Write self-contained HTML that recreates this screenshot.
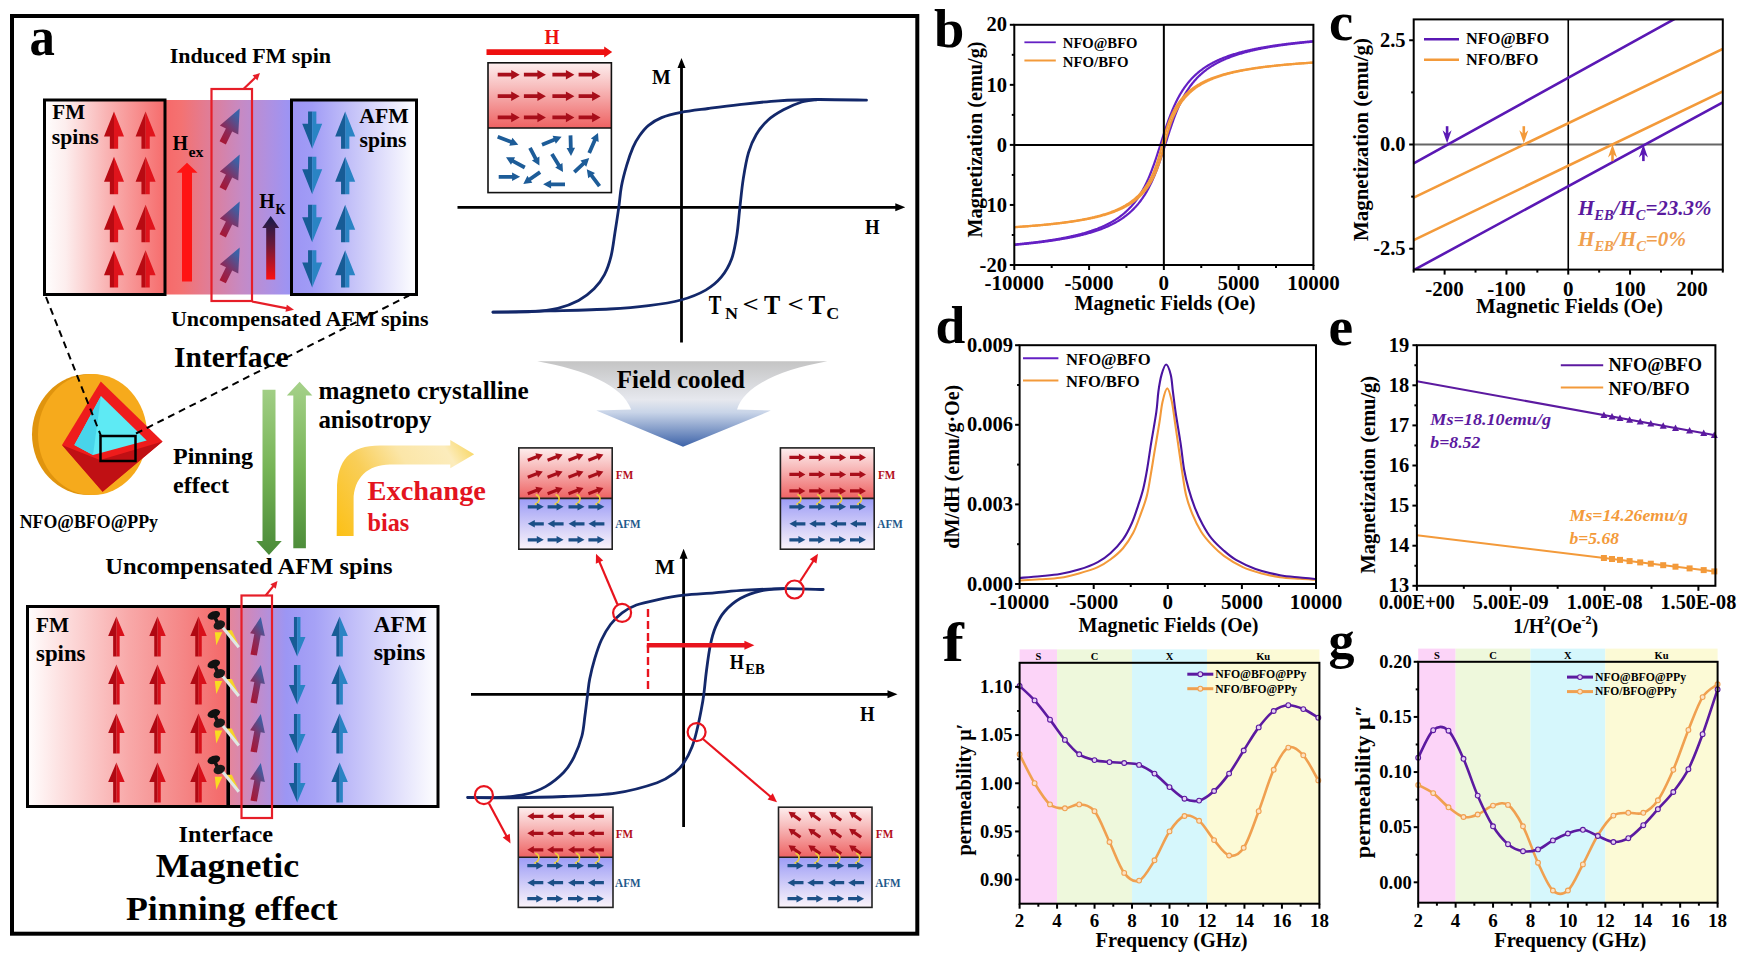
<!DOCTYPE html>
<html><head><meta charset="utf-8"><title>Exchange bias figure</title>
<style>html,body{margin:0;padding:0;background:#fff;overflow:hidden;} svg{display:block;font-family:"Liberation Serif",serif;}</style>
</head><body>
<svg width="1745" height="964" viewBox="0 0 1745 964" font-family="'Liberation Serif', serif">
<defs>
<linearGradient id="gTop" x1="43" y1="0" x2="417" y2="0" gradientUnits="userSpaceOnUse">
<stop offset="0" stop-color="#ffffff"/>
<stop offset="0.06" stop-color="#fdeeee"/>
<stop offset="0.17" stop-color="#f9b4b4"/>
<stop offset="0.33" stop-color="#f66a6a"/>
<stop offset="0.37" stop-color="#f47272"/>
<stop offset="0.45" stop-color="#de7e9a"/>
<stop offset="0.53" stop-color="#c68ac4"/>
<stop offset="0.60" stop-color="#b090e0"/>
<stop offset="0.66" stop-color="#9c94f4"/>
<stop offset="0.72" stop-color="#a19cf6"/>
<stop offset="0.85" stop-color="#cccaf9"/>
<stop offset="1" stop-color="#ffffff"/>
</linearGradient>
<linearGradient id="gTilt" x1="0" y1="1" x2="0.6" y2="0">
<stop offset="0" stop-color="#b01028"/><stop offset="0.45" stop-color="#8a2a5a"/><stop offset="1" stop-color="#3a62a8"/>
</linearGradient>
<linearGradient id="gHK" x1="0" y1="216" x2="0" y2="280" gradientUnits="userSpaceOnUse">
<stop offset="0" stop-color="#151a4a"/><stop offset="0.45" stop-color="#6a1a3a"/><stop offset="1" stop-color="#ff1010"/>
</linearGradient>
<linearGradient id="gGreen" x1="0" y1="385" x2="0" y2="555" gradientUnits="userSpaceOnUse">
<stop offset="0" stop-color="#a4d088"/><stop offset="0.5" stop-color="#76b456"/><stop offset="1" stop-color="#4a8a38"/>
</linearGradient>
<linearGradient id="gYel" x1="336" y1="536" x2="475" y2="450" gradientUnits="userSpaceOnUse">
<stop offset="0" stop-color="#fcc014"/><stop offset="0.35" stop-color="#f9ce58"/><stop offset="0.6" stop-color="#fbe6a8"/><stop offset="0.85" stop-color="#fcecbc"/><stop offset="1" stop-color="#f8d660"/>
</linearGradient>
<linearGradient id="gBot" x1="26" y1="0" x2="439" y2="0" gradientUnits="userSpaceOnUse">
<stop offset="0" stop-color="#ffffff"/>
<stop offset="0.08" stop-color="#fde2e2"/>
<stop offset="0.25" stop-color="#f8a8a8"/>
<stop offset="0.38" stop-color="#f58686"/>
<stop offset="0.48" stop-color="#f46a6a"/>
<stop offset="0.49" stop-color="#e6869a"/>
<stop offset="0.55" stop-color="#c88ac4"/>
<stop offset="0.63" stop-color="#9c96f4"/>
<stop offset="0.70" stop-color="#a6a2f6"/>
<stop offset="0.85" stop-color="#d2d0fa"/>
<stop offset="1" stop-color="#ffffff"/>
</linearGradient>
<linearGradient id="gFMv" x1="0" y1="0" x2="0" y2="1">
<stop offset="0" stop-color="#fdeeee"/><stop offset="0.35" stop-color="#f8c0c0"/><stop offset="1" stop-color="#ee6262"/>
</linearGradient>
<linearGradient id="gAFMv" x1="0" y1="0" x2="0" y2="1">
<stop offset="0" stop-color="#9c9cf6"/><stop offset="0.6" stop-color="#d6d2f8"/><stop offset="1" stop-color="#fbf4fa"/>
</linearGradient>
<linearGradient id="gFunnel" x1="0" y1="361" x2="0" y2="447" gradientUnits="userSpaceOnUse">
<stop offset="0" stop-color="#c4c4c4"/><stop offset="0.45" stop-color="#e6e8ee"/><stop offset="0.6" stop-color="#c8d4e8"/><stop offset="1" stop-color="#3c62a8"/>
</linearGradient>
</defs>
<rect width="1745" height="964" fill="#fff"/>
<rect x="12" y="16" width="905.3" height="917.7" fill="none" stroke="#000" stroke-width="4"/>
<text x="29.5" y="54.8" font-size="54.5" fill="#000" font-weight="bold" font-style="normal" text-anchor="start" textLength="25.4" lengthAdjust="spacingAndGlyphs" >a</text>
<rect x="43" y="100" width="374" height="194.5" fill="url(#gTop)"/>
<rect x="44.5" y="100" width="120.5" height="194.5" fill="none" stroke="#000" stroke-width="3"/>
<rect x="291.5" y="100" width="125" height="194.5" fill="none" stroke="#000" stroke-width="3"/>
<polygon points="114.00,148.80 118.15,148.80 118.15,136.40 124.00,136.40 114.00,111.40" fill="#e0141c"/>
<polygon points="114.00,111.40 104.00,136.40 109.85,136.40 109.85,148.80 114.00,148.80" fill="#b80a12"/>
<polygon points="114.00,194.20 118.15,194.20 118.15,181.80 124.00,181.80 114.00,156.80" fill="#e0141c"/>
<polygon points="114.00,156.80 104.00,181.80 109.85,181.80 109.85,194.20 114.00,194.20" fill="#b80a12"/>
<polygon points="114.00,242.20 118.15,242.20 118.15,229.80 124.00,229.80 114.00,204.80" fill="#e0141c"/>
<polygon points="114.00,204.80 104.00,229.80 109.85,229.80 109.85,242.20 114.00,242.20" fill="#b80a12"/>
<polygon points="114.00,287.60 118.15,287.60 118.15,275.20 124.00,275.20 114.00,250.20" fill="#e0141c"/>
<polygon points="114.00,250.20 104.00,275.20 109.85,275.20 109.85,287.60 114.00,287.60" fill="#b80a12"/>
<polygon points="145.60,148.80 149.75,148.80 149.75,136.40 155.60,136.40 145.60,111.40" fill="#e0141c"/>
<polygon points="145.60,111.40 135.60,136.40 141.45,136.40 141.45,148.80 145.60,148.80" fill="#b80a12"/>
<polygon points="145.60,194.20 149.75,194.20 149.75,181.80 155.60,181.80 145.60,156.80" fill="#e0141c"/>
<polygon points="145.60,156.80 135.60,181.80 141.45,181.80 141.45,194.20 145.60,194.20" fill="#b80a12"/>
<polygon points="145.60,242.20 149.75,242.20 149.75,229.80 155.60,229.80 145.60,204.80" fill="#e0141c"/>
<polygon points="145.60,204.80 135.60,229.80 141.45,229.80 141.45,242.20 145.60,242.20" fill="#b80a12"/>
<polygon points="145.60,287.60 149.75,287.60 149.75,275.20 155.60,275.20 145.60,250.20" fill="#e0141c"/>
<polygon points="145.60,250.20 135.60,275.20 141.45,275.20 141.45,287.60 145.60,287.60" fill="#b80a12"/>
<polygon points="312.20,111.40 308.05,111.40 308.05,123.80 302.20,123.80 312.20,148.80" fill="#175c96"/>
<polygon points="312.20,148.80 322.20,123.80 316.35,123.80 316.35,111.40 312.20,111.40" fill="#2a84c4"/>
<polygon points="345.20,148.80 349.35,148.80 349.35,136.40 355.20,136.40 345.20,111.40" fill="#2a84c4"/>
<polygon points="345.20,111.40 335.20,136.40 341.05,136.40 341.05,148.80 345.20,148.80" fill="#175c96"/>
<polygon points="312.20,156.80 308.05,156.80 308.05,169.20 302.20,169.20 312.20,194.20" fill="#175c96"/>
<polygon points="312.20,194.20 322.20,169.20 316.35,169.20 316.35,156.80 312.20,156.80" fill="#2a84c4"/>
<polygon points="345.20,194.20 349.35,194.20 349.35,181.80 355.20,181.80 345.20,156.80" fill="#2a84c4"/>
<polygon points="345.20,156.80 335.20,181.80 341.05,181.80 341.05,194.20 345.20,194.20" fill="#175c96"/>
<polygon points="312.20,204.80 308.05,204.80 308.05,217.20 302.20,217.20 312.20,242.20" fill="#175c96"/>
<polygon points="312.20,242.20 322.20,217.20 316.35,217.20 316.35,204.80 312.20,204.80" fill="#2a84c4"/>
<polygon points="345.20,242.20 349.35,242.20 349.35,229.80 355.20,229.80 345.20,204.80" fill="#2a84c4"/>
<polygon points="345.20,204.80 335.20,229.80 341.05,229.80 341.05,242.20 345.20,242.20" fill="#175c96"/>
<polygon points="312.20,250.20 308.05,250.20 308.05,262.60 302.20,262.60 312.20,287.60" fill="#175c96"/>
<polygon points="312.20,287.60 322.20,262.60 316.35,262.60 316.35,250.20 312.20,250.20" fill="#2a84c4"/>
<polygon points="345.20,287.60 349.35,287.60 349.35,275.20 355.20,275.20 345.20,250.20" fill="#2a84c4"/>
<polygon points="345.20,250.20 335.20,275.20 341.05,275.20 341.05,287.60 345.20,287.60" fill="#175c96"/>
<polygon points="225.84,144.45 232.20,131.57 238.26,134.56 239.70,108.50 219.88,125.47 225.93,128.47 219.56,141.35" fill="url(#gTilt)"/>
<polygon points="225.84,190.45 232.20,177.57 238.26,180.56 239.70,154.50 219.88,171.47 225.93,174.47 219.56,187.35" fill="url(#gTilt)"/>
<polygon points="225.84,237.45 232.20,224.57 238.26,227.56 239.70,201.50 219.88,218.47 225.93,221.47 219.56,234.35" fill="url(#gTilt)"/>
<polygon points="225.84,283.35 232.20,270.47 238.26,273.46 239.70,247.40 219.88,264.37 225.93,267.37 219.56,280.25" fill="url(#gTilt)"/>
<rect x="211.5" y="89" width="40.5" height="212" fill="none" stroke="#e61e28" stroke-width="2.2"/>
<line x1="243.50" y1="89.00" x2="255.69" y2="77.18" stroke="#e61e28" stroke-width="2.2"/>
<polygon points="260.00,73.00 257.41,80.39 252.54,75.36" fill="#e61e28"/>
<line x1="252.00" y1="301.50" x2="287.13" y2="308.44" stroke="#e61e28" stroke-width="2.2"/>
<polygon points="294.00,309.80 285.47,311.68 286.83,304.82" fill="#e61e28"/>
<polygon points="192.00,281.40 192.00,172.80 197.50,172.80 187.00,162.80 176.50,172.80 182.00,172.80 182.00,281.40" fill="#ff1414" />
<text x="172.6" y="150.3" font-size="20.5" fill="#000" font-weight="bold" font-style="normal" text-anchor="start" textLength="15.5" lengthAdjust="spacingAndGlyphs" >H</text>
<text x="188.5" y="156.5" font-size="14" fill="#000" font-weight="bold" font-style="normal" text-anchor="start" textLength="15.0" lengthAdjust="spacingAndGlyphs" >ex</text>
<polygon points="275.20,279.60 275.20,228.00 279.20,228.00 270.70,216.00 262.20,228.00 266.20,228.00 266.20,279.60" fill="url(#gHK)" />
<text x="259.3" y="208.2" font-size="20.5" fill="#000" font-weight="bold" font-style="normal" text-anchor="start" textLength="15.5" lengthAdjust="spacingAndGlyphs" >H</text>
<text x="275.5" y="214.4" font-size="14" fill="#000" font-weight="bold" font-style="normal" text-anchor="start" textLength="10.0" lengthAdjust="spacingAndGlyphs" >K</text>
<text x="169.7" y="62.6" font-size="22" fill="#000" font-weight="bold" font-style="normal" text-anchor="start" textLength="161.3" lengthAdjust="spacingAndGlyphs" >Induced FM spin</text>
<text x="52.3" y="118.7" font-size="21" fill="#000" font-weight="bold" font-style="normal" text-anchor="start" textLength="32.7" lengthAdjust="spacingAndGlyphs" >FM</text>
<text x="51.8" y="144.4" font-size="21.5" fill="#000" font-weight="bold" font-style="normal" text-anchor="start" textLength="47.0" lengthAdjust="spacingAndGlyphs" >spins</text>
<text x="359.3" y="122.6" font-size="21.5" fill="#000" font-weight="bold" font-style="normal" text-anchor="start" textLength="49.4" lengthAdjust="spacingAndGlyphs" >AFM</text>
<text x="359.5" y="147.3" font-size="21.5" fill="#000" font-weight="bold" font-style="normal" text-anchor="start" textLength="47.0" lengthAdjust="spacingAndGlyphs" >spins</text>
<text x="171.0" y="326.4" font-size="22" fill="#000" font-weight="bold" font-style="normal" text-anchor="start" textLength="257.6" lengthAdjust="spacingAndGlyphs" >Uncompensated AFM spins</text>
<text x="174.0" y="366.7" font-size="28.5" fill="#000" font-weight="bold" font-style="normal" text-anchor="start" textLength="114.7" lengthAdjust="spacingAndGlyphs" >Interface</text>
<ellipse cx="89" cy="434.5" rx="57" ry="60.5" fill="#e0940e"/>
<ellipse cx="92.5" cy="434.5" rx="54.5" ry="60.5" fill="#f6aa1c"/>
<polygon points="100.80,381.50 62.00,445.00 102.60,491.70 162.60,441.40" fill="#ee1c1c"/>
<polygon points="62.00,445.00 102.60,491.70 162.60,441.40 100.00,460.00" fill="#c01014"/>
<polygon points="101.00,396.00 74.40,445.00 93.00,455.00 146.70,440.50" fill="#5eeaf4"/>
<polygon points="101.00,396.00 74.40,445.00 93.00,455.00" fill="#48d4ea"/>
<rect x="100.5" y="436" width="35" height="25" fill="none" stroke="#000" stroke-width="2.5"/>
<line x1="46" y1="297" x2="101" y2="436" stroke="#000" stroke-width="2" stroke-dasharray="7 5"/>
<line x1="136" y1="433.5" x2="409" y2="295.5" stroke="#000" stroke-width="2" stroke-dasharray="7 5"/>
<text x="173.0" y="463.5" font-size="24" fill="#000" font-weight="bold" font-style="normal" text-anchor="start" >Pinning</text>
<text x="173.0" y="492.6" font-size="24" fill="#000" font-weight="bold" font-style="normal" text-anchor="start" >effect</text>
<text x="19.7" y="527.8" font-size="18" fill="#000" font-weight="bold" font-style="normal" text-anchor="start" textLength="138.3" lengthAdjust="spacingAndGlyphs" >NFO@BFO@PPy</text>
<polygon points="262.50,389.70 262.50,541.00 256.25,541.00 269.00,555.00 281.75,541.00 275.50,541.00 275.50,389.70" fill="url(#gGreen)" />
<polygon points="305.90,548.20 305.90,395.40 312.35,395.40 299.60,381.70 286.85,395.40 293.30,395.40 293.30,548.20" fill="url(#gGreen)" />
<text x="318.4" y="398.8" font-size="25" fill="#000" font-weight="bold" font-style="normal" text-anchor="start" textLength="210.4" lengthAdjust="spacingAndGlyphs" >magneto crystalline</text>
<text x="318.4" y="428.4" font-size="25" fill="#000" font-weight="bold" font-style="normal" text-anchor="start" textLength="113.0" lengthAdjust="spacingAndGlyphs" >anisotropy</text>
<path d="M336.7,536 L337,490 C337,460 350,445.5 380,445.5 L450.3,445.5 L450.3,440 L474.2,454.3 L450.3,468.2 L450.3,464.4 L390,464.4 C368,464.4 353.6,478 353.6,500 L353.6,536 Z" fill="url(#gYel)"/>
<text x="367.5" y="500.3" font-size="27" fill="#e3141e" font-weight="bold" font-style="normal" text-anchor="start" textLength="118.5" lengthAdjust="spacingAndGlyphs" >Exchange</text>
<text x="367.5" y="531.0" font-size="25" fill="#e3141e" font-weight="bold" font-style="normal" text-anchor="start" textLength="41.7" lengthAdjust="spacingAndGlyphs" >bias</text>
<text x="105.2" y="573.8" font-size="23.6" fill="#000" font-weight="bold" font-style="normal" text-anchor="start" textLength="287.4" lengthAdjust="spacingAndGlyphs" >Uncompensated AFM spins</text>
<rect x="26" y="605" width="413" height="203" fill="url(#gBot)"/>
<rect x="27.5" y="606.5" width="410.5" height="200" fill="none" stroke="#000" stroke-width="3"/>
<line x1="228.2" y1="606" x2="228.2" y2="807" stroke="#000" stroke-width="3.6"/>
<polygon points="116.40,656.50 119.65,656.50 119.65,636.10 124.65,636.10 116.40,616.50" fill="#d8101a"/>
<polygon points="116.40,616.50 108.15,636.10 113.15,636.10 113.15,656.50 116.40,656.50" fill="#b00812"/>
<polygon points="116.40,704.50 119.65,704.50 119.65,684.10 124.65,684.10 116.40,664.50" fill="#d8101a"/>
<polygon points="116.40,664.50 108.15,684.10 113.15,684.10 113.15,704.50 116.40,704.50" fill="#b00812"/>
<polygon points="116.40,753.50 119.65,753.50 119.65,733.10 124.65,733.10 116.40,713.50" fill="#d8101a"/>
<polygon points="116.40,713.50 108.15,733.10 113.15,733.10 113.15,753.50 116.40,753.50" fill="#b00812"/>
<polygon points="116.40,802.50 119.65,802.50 119.65,782.10 124.65,782.10 116.40,762.50" fill="#d8101a"/>
<polygon points="116.40,762.50 108.15,782.10 113.15,782.10 113.15,802.50 116.40,802.50" fill="#b00812"/>
<polygon points="157.50,656.50 160.75,656.50 160.75,636.10 165.75,636.10 157.50,616.50" fill="#d8101a"/>
<polygon points="157.50,616.50 149.25,636.10 154.25,636.10 154.25,656.50 157.50,656.50" fill="#b00812"/>
<polygon points="157.50,704.50 160.75,704.50 160.75,684.10 165.75,684.10 157.50,664.50" fill="#d8101a"/>
<polygon points="157.50,664.50 149.25,684.10 154.25,684.10 154.25,704.50 157.50,704.50" fill="#b00812"/>
<polygon points="157.50,753.50 160.75,753.50 160.75,733.10 165.75,733.10 157.50,713.50" fill="#d8101a"/>
<polygon points="157.50,713.50 149.25,733.10 154.25,733.10 154.25,753.50 157.50,753.50" fill="#b00812"/>
<polygon points="157.50,802.50 160.75,802.50 160.75,782.10 165.75,782.10 157.50,762.50" fill="#d8101a"/>
<polygon points="157.50,762.50 149.25,782.10 154.25,782.10 154.25,802.50 157.50,802.50" fill="#b00812"/>
<polygon points="198.50,656.50 201.75,656.50 201.75,636.10 206.75,636.10 198.50,616.50" fill="#d8101a"/>
<polygon points="198.50,616.50 190.25,636.10 195.25,636.10 195.25,656.50 198.50,656.50" fill="#b00812"/>
<polygon points="198.50,704.50 201.75,704.50 201.75,684.10 206.75,684.10 198.50,664.50" fill="#d8101a"/>
<polygon points="198.50,664.50 190.25,684.10 195.25,684.10 195.25,704.50 198.50,704.50" fill="#b00812"/>
<polygon points="198.50,753.50 201.75,753.50 201.75,733.10 206.75,733.10 198.50,713.50" fill="#d8101a"/>
<polygon points="198.50,713.50 190.25,733.10 195.25,733.10 195.25,753.50 198.50,753.50" fill="#b00812"/>
<polygon points="198.50,802.50 201.75,802.50 201.75,782.10 206.75,782.10 198.50,762.50" fill="#d8101a"/>
<polygon points="198.50,762.50 190.25,782.10 195.25,782.10 195.25,802.50 198.50,802.50" fill="#b00812"/>
<polygon points="297.20,617.00 293.95,617.00 293.95,636.90 288.95,636.90 297.20,656.50" fill="#175c96"/>
<polygon points="297.20,656.50 305.45,636.90 300.45,636.90 300.45,617.00 297.20,617.00" fill="#2a84c4"/>
<polygon points="339.60,656.50 342.85,656.50 342.85,636.10 347.85,636.10 339.60,616.50" fill="#2a84c4"/>
<polygon points="339.60,616.50 331.35,636.10 336.35,636.10 336.35,656.50 339.60,656.50" fill="#175c96"/>
<polygon points="297.20,665.00 293.95,665.00 293.95,684.90 288.95,684.90 297.20,704.50" fill="#175c96"/>
<polygon points="297.20,704.50 305.45,684.90 300.45,684.90 300.45,665.00 297.20,665.00" fill="#2a84c4"/>
<polygon points="339.60,704.50 342.85,704.50 342.85,684.10 347.85,684.10 339.60,664.50" fill="#2a84c4"/>
<polygon points="339.60,664.50 331.35,684.10 336.35,684.10 336.35,704.50 339.60,704.50" fill="#175c96"/>
<polygon points="297.20,714.00 293.95,714.00 293.95,733.90 288.95,733.90 297.20,753.50" fill="#175c96"/>
<polygon points="297.20,753.50 305.45,733.90 300.45,733.90 300.45,714.00 297.20,714.00" fill="#2a84c4"/>
<polygon points="339.60,753.50 342.85,753.50 342.85,733.10 347.85,733.10 339.60,713.50" fill="#2a84c4"/>
<polygon points="339.60,713.50 331.35,733.10 336.35,733.10 336.35,753.50 339.60,753.50" fill="#175c96"/>
<polygon points="297.20,763.00 293.95,763.00 293.95,782.90 288.95,782.90 297.20,802.50" fill="#175c96"/>
<polygon points="297.20,802.50 305.45,782.90 300.45,782.90 300.45,763.00 297.20,763.00" fill="#2a84c4"/>
<polygon points="339.60,802.50 342.85,802.50 342.85,782.10 347.85,782.10 339.60,762.50" fill="#2a84c4"/>
<polygon points="339.60,762.50 331.35,782.10 336.35,782.10 336.35,802.50 339.60,802.50" fill="#175c96"/>
<polygon points="256.89,655.60 260.69,635.29 264.87,636.07 260.80,617.00 250.12,633.32 254.30,634.10 250.51,654.40" fill="url(#gTilt)"/>
<polygon points="256.89,703.60 260.69,683.29 264.87,684.07 260.80,665.00 250.12,681.32 254.30,682.10 250.51,702.40" fill="url(#gTilt)"/>
<polygon points="256.89,752.60 260.69,732.29 264.87,733.07 260.80,714.00 250.12,730.32 254.30,731.10 250.51,751.40" fill="url(#gTilt)"/>
<polygon points="256.89,801.60 260.69,781.29 264.87,782.07 260.80,763.00 250.12,779.32 254.30,780.10 250.51,800.40" fill="url(#gTilt)"/>
<g transform="translate(213.8,615.3)"><polygon points="1,17 2.5,30 8.5,17" fill="#f8dc20"/><polygon points="11,15 25,30 18,15" fill="#f6d428"/><line x1="8" y1="11" x2="25" y2="32" stroke="#dfe8e4" stroke-width="3"/><ellipse cx="0" cy="0" rx="6.5" ry="4" transform="rotate(-20)" fill="#111"/><polygon points="-1,2 3,2 6,8 2,8" fill="#111"/><ellipse cx="5.5" cy="9.7" rx="6" ry="4.3" transform="rotate(-25 5.5 9.7)" fill="#1a1a1a"/></g>
<g transform="translate(213.8,664)"><polygon points="1,17 2.5,30 8.5,17" fill="#f8dc20"/><polygon points="11,15 25,30 18,15" fill="#f6d428"/><line x1="8" y1="11" x2="25" y2="32" stroke="#dfe8e4" stroke-width="3"/><ellipse cx="0" cy="0" rx="6.5" ry="4" transform="rotate(-20)" fill="#111"/><polygon points="-1,2 3,2 6,8 2,8" fill="#111"/><ellipse cx="5.5" cy="9.7" rx="6" ry="4.3" transform="rotate(-25 5.5 9.7)" fill="#1a1a1a"/></g>
<g transform="translate(213.8,713.5)"><polygon points="1,17 2.5,30 8.5,17" fill="#f8dc20"/><polygon points="11,15 25,30 18,15" fill="#f6d428"/><line x1="8" y1="11" x2="25" y2="32" stroke="#dfe8e4" stroke-width="3"/><ellipse cx="0" cy="0" rx="6.5" ry="4" transform="rotate(-20)" fill="#111"/><polygon points="-1,2 3,2 6,8 2,8" fill="#111"/><ellipse cx="5.5" cy="9.7" rx="6" ry="4.3" transform="rotate(-25 5.5 9.7)" fill="#1a1a1a"/></g>
<g transform="translate(213.8,759.8)"><polygon points="1,17 2.5,30 8.5,17" fill="#f8dc20"/><polygon points="11,15 25,30 18,15" fill="#f6d428"/><line x1="8" y1="11" x2="25" y2="32" stroke="#dfe8e4" stroke-width="3"/><ellipse cx="0" cy="0" rx="6.5" ry="4" transform="rotate(-20)" fill="#111"/><polygon points="-1,2 3,2 6,8 2,8" fill="#111"/><ellipse cx="5.5" cy="9.7" rx="6" ry="4.3" transform="rotate(-25 5.5 9.7)" fill="#1a1a1a"/></g>
<rect x="241.5" y="595.5" width="30.5" height="222.5" fill="none" stroke="#e61e28" stroke-width="2.2"/>
<line x1="265.70" y1="595.50" x2="273.71" y2="585.65" stroke="#e61e28" stroke-width="2.2"/>
<polygon points="277.50,581.00 275.80,588.64 270.37,584.22" fill="#e61e28"/>
<text x="36.0" y="632.4" font-size="22" fill="#000" font-weight="bold" font-style="normal" text-anchor="start" textLength="33.0" lengthAdjust="spacingAndGlyphs" >FM</text>
<text x="36.0" y="661.3" font-size="22.5" fill="#000" font-weight="bold" font-style="normal" text-anchor="start" textLength="49.5" lengthAdjust="spacingAndGlyphs" >spins</text>
<text x="373.7" y="631.7" font-size="23" fill="#000" font-weight="bold" font-style="normal" text-anchor="start" textLength="52.9" lengthAdjust="spacingAndGlyphs" >AFM</text>
<text x="373.7" y="659.7" font-size="23.5" fill="#000" font-weight="bold" font-style="normal" text-anchor="start" textLength="51.7" lengthAdjust="spacingAndGlyphs" >spins</text>
<text x="178.6" y="841.9" font-size="24" fill="#000" font-weight="bold" font-style="normal" text-anchor="start" textLength="94.4" lengthAdjust="spacingAndGlyphs" >Interface</text>
<text x="155.7" y="877.0" font-size="34" fill="#000" font-weight="bold" font-style="normal" text-anchor="start" textLength="143.5" lengthAdjust="spacingAndGlyphs" >Magnetic</text>
<text x="126.0" y="920.0" font-size="34" fill="#000" font-weight="bold" font-style="normal" text-anchor="start" textLength="211.8" lengthAdjust="spacingAndGlyphs" >Pinning effect</text>
<rect x="488" y="62.8" width="123.4" height="65.2" fill="url(#gFMv)"/>
<rect x="488" y="62.8" width="123.4" height="129.8" fill="none" stroke="#111" stroke-width="1.6"/>
<line x1="488" y1="128" x2="611.4" y2="128" stroke="#111" stroke-width="1.6"/>
<polygon points="497.70,76.60 511.20,76.60 511.20,79.45 519.70,74.70 511.20,69.95 511.20,72.80 497.70,72.80" fill="#a80e1a" />
<polygon points="523.90,76.60 537.40,76.60 537.40,79.45 545.90,74.70 537.40,69.95 537.40,72.80 523.90,72.80" fill="#a80e1a" />
<polygon points="552.40,76.60 565.90,76.60 565.90,79.45 574.40,74.70 565.90,69.95 565.90,72.80 552.40,72.80" fill="#a80e1a" />
<polygon points="578.60,76.60 592.10,76.60 592.10,79.45 600.60,74.70 592.10,69.95 592.10,72.80 578.60,72.80" fill="#a80e1a" />
<polygon points="497.70,98.10 511.20,98.10 511.20,100.95 519.70,96.20 511.20,91.45 511.20,94.30 497.70,94.30" fill="#a80e1a" />
<polygon points="523.90,98.10 537.40,98.10 537.40,100.95 545.90,96.20 537.40,91.45 537.40,94.30 523.90,94.30" fill="#a80e1a" />
<polygon points="552.40,98.10 565.90,98.10 565.90,100.95 574.40,96.20 565.90,91.45 565.90,94.30 552.40,94.30" fill="#a80e1a" />
<polygon points="578.60,98.10 592.10,98.10 592.10,100.95 600.60,96.20 592.10,91.45 592.10,94.30 578.60,94.30" fill="#a80e1a" />
<polygon points="497.70,119.30 511.20,119.30 511.20,122.15 519.70,117.40 511.20,112.65 511.20,115.50 497.70,115.50" fill="#a80e1a" />
<polygon points="523.90,119.30 537.40,119.30 537.40,122.15 545.90,117.40 537.40,112.65 537.40,115.50 523.90,115.50" fill="#a80e1a" />
<polygon points="552.40,119.30 565.90,119.30 565.90,122.15 574.40,117.40 565.90,112.65 565.90,115.50 552.40,115.50" fill="#a80e1a" />
<polygon points="578.60,119.30 592.10,119.30 592.10,122.15 600.60,117.40 592.10,112.65 592.10,115.50 578.60,115.50" fill="#a80e1a" />
<polygon points="497.01,138.47 510.15,143.58 509.30,145.77 518.30,144.70 512.38,137.84 511.53,140.03 498.39,134.93" fill="#1d5c98" />
<polygon points="525.71,165.83 513.93,159.38 515.06,157.32 506.00,157.20 510.97,164.77 512.10,162.71 523.89,169.17" fill="#1d5c98" />
<polygon points="498.70,178.70 512.10,178.70 512.10,181.05 520.10,176.80 512.10,172.55 512.10,174.90 498.70,174.90" fill="#1d5c98" />
<polygon points="528.32,148.79 533.97,159.43 531.89,160.53 539.40,165.60 539.40,156.54 537.33,157.64 531.68,147.01" fill="#1d5c98" />
<polygon points="539.01,170.55 528.75,177.75 527.40,175.82 523.30,183.90 532.29,182.78 530.94,180.86 541.19,173.65" fill="#1d5c98" />
<polygon points="542.72,146.46 554.91,141.48 555.80,143.66 561.60,136.70 552.59,135.79 553.48,137.96 541.28,142.94" fill="#1d5c98" />
<polygon points="550.28,154.99 557.20,166.27 555.19,167.50 563.00,172.10 562.44,163.06 560.44,164.29 553.52,153.01" fill="#1d5c98" />
<polygon points="565.00,182.40 551.10,182.40 551.10,180.05 543.10,184.30 551.10,188.55 551.10,186.20 565.00,186.20" fill="#1d5c98" />
<polygon points="568.60,135.45 568.91,147.95 566.56,148.01 571.00,155.90 575.05,147.80 572.70,147.86 572.40,135.35" fill="#1d5c98" />
<polygon points="575.60,173.48 584.67,164.96 586.28,166.68 589.20,158.10 580.46,160.48 582.07,162.19 573.00,170.72" fill="#1d5c98" />
<polygon points="590.94,153.67 596.52,140.99 598.67,141.93 598.00,132.90 590.89,138.51 593.04,139.46 587.46,152.13" fill="#1d5c98" />
<polygon points="601.02,184.95 593.14,174.54 595.01,173.12 586.80,169.30 588.23,178.24 590.11,176.83 597.98,187.25" fill="#1d5c98" />
<polygon points="486.50,54.90 604.20,54.90 604.20,57.60 612.20,52.10 604.20,46.60 604.20,49.30 486.50,49.30" fill="#ee1010" />
<text x="544.4" y="43.9" font-size="20" fill="#ee1010" font-weight="bold" font-style="normal" text-anchor="start" textLength="15.0" lengthAdjust="spacingAndGlyphs" >H</text>
<polygon points="682.90,342.50 682.90,68.00 685.50,68.00 681.50,58.00 677.50,68.00 680.10,68.00 680.10,342.50" fill="#000" />
<polygon points="457.50,208.70 895.30,208.70 895.30,211.30 905.30,207.30 895.30,203.30 895.30,205.90 457.50,205.90" fill="#000" />
<text x="652.0" y="83.6" font-size="21" fill="#000" font-weight="bold" font-style="normal" text-anchor="start" textLength="18.8" lengthAdjust="spacingAndGlyphs" >M</text>
<text x="865.0" y="234.2" font-size="21" fill="#000" font-weight="bold" font-style="normal" text-anchor="start" textLength="14.6" lengthAdjust="spacingAndGlyphs" >H</text>
<path d="M866.50,100.20 C858.28,100.08 831.90,99.40 817.20,99.50 C802.50,99.60 791.27,99.95 778.30,100.80 C765.33,101.65 751.07,103.32 739.40,104.60 C727.73,105.88 718.03,107.20 708.30,108.50 C698.57,109.80 688.78,110.88 681.00,112.40 C673.22,113.92 667.00,115.43 661.60,117.60 C656.20,119.77 652.28,122.37 648.60,125.40 C644.92,128.43 642.10,132.13 639.50,135.80 C636.90,139.47 635.15,142.43 633.00,147.40 C630.85,152.37 628.53,159.10 626.60,165.60 C624.67,172.10 622.70,179.48 621.40,186.40 C620.10,193.32 619.88,199.33 618.80,207.10 C617.72,214.87 616.20,224.78 614.90,233.00 C613.60,241.22 612.73,249.47 611.00,256.40 C609.27,263.33 607.32,269.20 604.50,274.60 C601.68,280.00 598.42,284.48 594.10,288.80 C589.78,293.12 584.65,297.25 578.60,300.50 C572.55,303.75 565.58,306.45 557.80,308.30 C550.02,310.15 542.70,310.95 531.90,311.60 C521.10,312.25 499.48,312.10 493.00,312.20" fill="none" stroke="#13286a" stroke-width="2.8" stroke-linecap="round"/>
<path d="M493.00,312.20 C502.50,311.98 530.55,311.43 550.00,310.90 C569.45,310.37 593.27,309.87 609.70,309.00 C626.13,308.13 636.72,307.20 648.60,305.70 C660.48,304.20 671.48,302.60 681.00,300.00 C690.52,297.40 699.00,293.90 705.70,290.10 C712.40,286.30 716.88,282.38 721.20,277.20 C725.52,272.02 729.00,265.93 731.60,259.00 C734.20,252.07 735.42,244.25 736.80,235.60 C738.18,226.95 738.82,216.60 739.90,207.10 C740.98,197.60 741.87,187.68 743.30,178.60 C744.73,169.52 746.33,159.95 748.50,152.60 C750.67,145.25 753.07,139.90 756.30,134.50 C759.53,129.10 763.37,124.32 767.90,120.20 C772.43,116.08 777.87,112.83 783.50,109.80 C789.13,106.77 796.08,103.72 801.70,102.00 C807.32,100.28 814.62,99.92 817.20,99.50" fill="none" stroke="#13286a" stroke-width="2.8" stroke-linecap="round"/>
<text x="708.7" y="313.8" font-size="27.5" fill="#000" font-weight="bold" font-style="normal" text-anchor="start" textLength="12.6" lengthAdjust="spacingAndGlyphs" >T</text>
<text x="725.0" y="318.8" font-size="17" fill="#000" font-weight="bold" font-style="normal" text-anchor="start" textLength="13.0" lengthAdjust="spacingAndGlyphs" >N</text>
<text x="742.5" y="311.8" font-size="23" fill="#000" font-weight="bold" font-style="normal" text-anchor="start" textLength="16.3" lengthAdjust="spacingAndGlyphs" >&lt;</text>
<text x="764.1" y="313.8" font-size="27.5" fill="#000" font-weight="bold" font-style="normal" text-anchor="start" textLength="16.2" lengthAdjust="spacingAndGlyphs" >T</text>
<text x="787.6" y="311.8" font-size="23" fill="#000" font-weight="bold" font-style="normal" text-anchor="start" textLength="16.3" lengthAdjust="spacingAndGlyphs" >&lt;</text>
<text x="808.4" y="313.8" font-size="27.5" fill="#000" font-weight="bold" font-style="normal" text-anchor="start" textLength="16.7" lengthAdjust="spacingAndGlyphs" >T</text>
<text x="826.3" y="318.8" font-size="17" fill="#000" font-weight="bold" font-style="normal" text-anchor="start" textLength="13.0" lengthAdjust="spacingAndGlyphs" >C</text>
<path d="M537.3,361.3 L827.3,361.3 C780,370 745,385 737,409.4 L770.8,410.6 L683,446.7 L596.3,410.6 L631.2,409.4 C622,385 585,370 537.3,361.3 Z" fill="url(#gFunnel)"/>
<text x="616.7" y="388.2" font-size="25" fill="#000" font-weight="bold" font-style="normal" text-anchor="start" textLength="128.3" lengthAdjust="spacingAndGlyphs" >Field cooled</text>
<rect x="518.8" y="447.9" width="93.4" height="50.5" fill="url(#gFMv)"/>
<rect x="518.8" y="498.4" width="93.4" height="50.8" fill="url(#gAFMv)"/>
<rect x="518.8" y="447.9" width="93.4" height="101.3" fill="none" stroke="#222" stroke-width="1.6"/>
<line x1="518.8" y1="498.4" x2="612.2" y2="498.4" stroke="#222" stroke-width="1.6"/>
<polygon points="528.36,461.70 537.27,458.37 538.02,460.39 542.80,454.60 535.40,453.36 536.15,455.37 527.24,458.70" fill="#a80e1a" />
<polygon points="548.16,461.70 557.07,458.37 557.82,460.39 562.60,454.60 555.20,453.36 555.95,455.37 547.04,458.70" fill="#a80e1a" />
<polygon points="569.06,461.70 577.97,458.37 578.72,460.39 583.50,454.60 576.10,453.36 576.85,455.37 567.94,458.70" fill="#a80e1a" />
<polygon points="588.96,461.70 597.87,458.37 598.62,460.39 603.40,454.60 596.00,453.36 596.75,455.37 587.84,458.70" fill="#a80e1a" />
<polygon points="528.36,478.70 537.27,475.37 538.02,477.39 542.80,471.60 535.40,470.36 536.15,472.37 527.24,475.70" fill="#a80e1a" />
<polygon points="548.16,478.70 557.07,475.37 557.82,477.39 562.60,471.60 555.20,470.36 555.95,472.37 547.04,475.70" fill="#a80e1a" />
<polygon points="569.06,478.70 577.97,475.37 578.72,477.39 583.50,471.60 576.10,470.36 576.85,472.37 567.94,475.70" fill="#a80e1a" />
<polygon points="588.96,478.70 597.87,475.37 598.62,477.39 603.40,471.60 596.00,470.36 596.75,472.37 587.84,475.70" fill="#a80e1a" />
<polygon points="528.36,495.20 537.27,491.87 538.02,493.89 542.80,488.10 535.40,486.86 536.15,488.87 527.24,492.20" fill="#a80e1a" />
<polygon points="548.16,495.20 557.07,491.87 557.82,493.89 562.60,488.10 555.20,486.86 555.95,488.87 547.04,492.20" fill="#a80e1a" />
<polygon points="569.06,495.20 577.97,491.87 578.72,493.89 583.50,488.10 576.10,486.86 576.85,488.87 567.94,492.20" fill="#a80e1a" />
<polygon points="588.96,495.20 597.87,491.87 598.62,493.89 603.40,488.10 596.00,486.86 596.75,488.87 587.84,492.20" fill="#a80e1a" />
<path d="M535.8,494.4 q4,1.5 3.5,5 q-0.5,3.5 -4.5,5" fill="none" stroke="#ecd23a" stroke-width="1.6"/>
<path d="M555.6,494.4 q4,1.5 3.5,5 q-0.5,3.5 -4.5,5" fill="none" stroke="#ecd23a" stroke-width="1.6"/>
<path d="M576.5,494.4 q4,1.5 3.5,5 q-0.5,3.5 -4.5,5" fill="none" stroke="#ecd23a" stroke-width="1.6"/>
<path d="M596.4,494.4 q4,1.5 3.5,5 q-0.5,3.5 -4.5,5" fill="none" stroke="#ecd23a" stroke-width="1.6"/>
<polygon points="527.80,508.40 536.80,508.40 536.80,510.55 543.80,506.80 536.80,503.05 536.80,505.20 527.80,505.20" fill="#1b4f86" />
<polygon points="547.60,508.40 556.60,508.40 556.60,510.55 563.60,506.80 556.60,503.05 556.60,505.20 547.60,505.20" fill="#1b4f86" />
<polygon points="568.50,508.40 577.50,508.40 577.50,510.55 584.50,506.80 577.50,503.05 577.50,505.20 568.50,505.20" fill="#1b4f86" />
<polygon points="588.40,508.40 597.40,508.40 597.40,510.55 604.40,506.80 597.40,503.05 597.40,505.20 588.40,505.20" fill="#1b4f86" />
<polygon points="543.80,522.20 534.80,522.20 534.80,520.05 527.80,523.80 534.80,527.55 534.80,525.40 543.80,525.40" fill="#1b4f86" />
<polygon points="563.60,522.20 554.60,522.20 554.60,520.05 547.60,523.80 554.60,527.55 554.60,525.40 563.60,525.40" fill="#1b4f86" />
<polygon points="584.50,522.20 575.50,522.20 575.50,520.05 568.50,523.80 575.50,527.55 575.50,525.40 584.50,525.40" fill="#1b4f86" />
<polygon points="604.40,522.20 595.40,522.20 595.40,520.05 588.40,523.80 595.40,527.55 595.40,525.40 604.40,525.40" fill="#1b4f86" />
<polygon points="527.80,541.40 536.80,541.40 536.80,543.55 543.80,539.80 536.80,536.05 536.80,538.20 527.80,538.20" fill="#1b4f86" />
<polygon points="547.60,541.40 556.60,541.40 556.60,543.55 563.60,539.80 556.60,536.05 556.60,538.20 547.60,538.20" fill="#1b4f86" />
<polygon points="568.50,541.40 577.50,541.40 577.50,543.55 584.50,539.80 577.50,536.05 577.50,538.20 568.50,538.20" fill="#1b4f86" />
<polygon points="588.40,541.40 597.40,541.40 597.40,543.55 604.40,539.80 597.40,536.05 597.40,538.20 588.40,538.20" fill="#1b4f86" />
<text x="615.8" y="478.8" font-size="11.5" fill="#b3101c" font-weight="bold" font-style="normal" text-anchor="start" textLength="17.4" lengthAdjust="spacingAndGlyphs" >FM</text>
<text x="615.2" y="527.9" font-size="11.5" fill="#1f5a8c" font-weight="bold" font-style="normal" text-anchor="start" textLength="25.5" lengthAdjust="spacingAndGlyphs" >AFM</text>
<rect x="780.4" y="447.9" width="93.8" height="50.5" fill="url(#gFMv)"/>
<rect x="780.4" y="498.4" width="93.8" height="50.8" fill="url(#gAFMv)"/>
<rect x="780.4" y="447.9" width="93.8" height="101.3" fill="none" stroke="#222" stroke-width="1.6"/>
<line x1="780.4" y1="498.4" x2="874.2" y2="498.4" stroke="#222" stroke-width="1.6"/>
<polygon points="789.40,459.00 798.90,459.00 798.90,461.15 805.40,457.40 798.90,453.65 798.90,455.80 789.40,455.80" fill="#a80e1a" />
<polygon points="809.20,459.00 818.70,459.00 818.70,461.15 825.20,457.40 818.70,453.65 818.70,455.80 809.20,455.80" fill="#a80e1a" />
<polygon points="830.10,459.00 839.60,459.00 839.60,461.15 846.10,457.40 839.60,453.65 839.60,455.80 830.10,455.80" fill="#a80e1a" />
<polygon points="850.00,459.00 859.50,459.00 859.50,461.15 866.00,457.40 859.50,453.65 859.50,455.80 850.00,455.80" fill="#a80e1a" />
<polygon points="789.40,476.00 798.90,476.00 798.90,478.15 805.40,474.40 798.90,470.65 798.90,472.80 789.40,472.80" fill="#a80e1a" />
<polygon points="809.20,476.00 818.70,476.00 818.70,478.15 825.20,474.40 818.70,470.65 818.70,472.80 809.20,472.80" fill="#a80e1a" />
<polygon points="830.10,476.00 839.60,476.00 839.60,478.15 846.10,474.40 839.60,470.65 839.60,472.80 830.10,472.80" fill="#a80e1a" />
<polygon points="850.00,476.00 859.50,476.00 859.50,478.15 866.00,474.40 859.50,470.65 859.50,472.80 850.00,472.80" fill="#a80e1a" />
<polygon points="789.40,492.50 798.90,492.50 798.90,494.65 805.40,490.90 798.90,487.15 798.90,489.30 789.40,489.30" fill="#a80e1a" />
<polygon points="809.20,492.50 818.70,492.50 818.70,494.65 825.20,490.90 818.70,487.15 818.70,489.30 809.20,489.30" fill="#a80e1a" />
<polygon points="830.10,492.50 839.60,492.50 839.60,494.65 846.10,490.90 839.60,487.15 839.60,489.30 830.10,489.30" fill="#a80e1a" />
<polygon points="850.00,492.50 859.50,492.50 859.50,494.65 866.00,490.90 859.50,487.15 859.50,489.30 850.00,489.30" fill="#a80e1a" />
<path d="M797.4,494.4 q4,1.5 3.5,5 q-0.5,3.5 -4.5,5" fill="none" stroke="#ecd23a" stroke-width="1.6"/>
<path d="M817.2,494.4 q4,1.5 3.5,5 q-0.5,3.5 -4.5,5" fill="none" stroke="#ecd23a" stroke-width="1.6"/>
<path d="M838.1,494.4 q4,1.5 3.5,5 q-0.5,3.5 -4.5,5" fill="none" stroke="#ecd23a" stroke-width="1.6"/>
<path d="M858.0,494.4 q4,1.5 3.5,5 q-0.5,3.5 -4.5,5" fill="none" stroke="#ecd23a" stroke-width="1.6"/>
<polygon points="789.40,508.40 798.40,508.40 798.40,510.55 805.40,506.80 798.40,503.05 798.40,505.20 789.40,505.20" fill="#1b4f86" />
<polygon points="809.20,508.40 818.20,508.40 818.20,510.55 825.20,506.80 818.20,503.05 818.20,505.20 809.20,505.20" fill="#1b4f86" />
<polygon points="830.10,508.40 839.10,508.40 839.10,510.55 846.10,506.80 839.10,503.05 839.10,505.20 830.10,505.20" fill="#1b4f86" />
<polygon points="850.00,508.40 859.00,508.40 859.00,510.55 866.00,506.80 859.00,503.05 859.00,505.20 850.00,505.20" fill="#1b4f86" />
<polygon points="805.40,522.20 796.40,522.20 796.40,520.05 789.40,523.80 796.40,527.55 796.40,525.40 805.40,525.40" fill="#1b4f86" />
<polygon points="825.20,522.20 816.20,522.20 816.20,520.05 809.20,523.80 816.20,527.55 816.20,525.40 825.20,525.40" fill="#1b4f86" />
<polygon points="846.10,522.20 837.10,522.20 837.10,520.05 830.10,523.80 837.10,527.55 837.10,525.40 846.10,525.40" fill="#1b4f86" />
<polygon points="866.00,522.20 857.00,522.20 857.00,520.05 850.00,523.80 857.00,527.55 857.00,525.40 866.00,525.40" fill="#1b4f86" />
<polygon points="789.40,541.40 798.40,541.40 798.40,543.55 805.40,539.80 798.40,536.05 798.40,538.20 789.40,538.20" fill="#1b4f86" />
<polygon points="809.20,541.40 818.20,541.40 818.20,543.55 825.20,539.80 818.20,536.05 818.20,538.20 809.20,538.20" fill="#1b4f86" />
<polygon points="830.10,541.40 839.10,541.40 839.10,543.55 846.10,539.80 839.10,536.05 839.10,538.20 830.10,538.20" fill="#1b4f86" />
<polygon points="850.00,541.40 859.00,541.40 859.00,543.55 866.00,539.80 859.00,536.05 859.00,538.20 850.00,538.20" fill="#1b4f86" />
<text x="877.9" y="478.8" font-size="11.5" fill="#b3101c" font-weight="bold" font-style="normal" text-anchor="start" textLength="17.4" lengthAdjust="spacingAndGlyphs" >FM</text>
<text x="877.3" y="527.9" font-size="11.5" fill="#1f5a8c" font-weight="bold" font-style="normal" text-anchor="start" textLength="25.5" lengthAdjust="spacingAndGlyphs" >AFM</text>
<rect x="518.3" y="807.2" width="94.7" height="50.1" fill="url(#gFMv)"/>
<rect x="518.3" y="857.3" width="94.7" height="50.1" fill="url(#gAFMv)"/>
<rect x="518.3" y="807.2" width="94.7" height="100.2" fill="none" stroke="#222" stroke-width="1.6"/>
<line x1="518.3" y1="857.3" x2="613" y2="857.3" stroke="#222" stroke-width="1.6"/>
<polygon points="543.30,814.70 533.80,814.70 533.80,812.55 527.30,816.30 533.80,820.05 533.80,817.90 543.30,817.90" fill="#a80e1a" />
<polygon points="563.10,814.70 553.60,814.70 553.60,812.55 547.10,816.30 553.60,820.05 553.60,817.90 563.10,817.90" fill="#a80e1a" />
<polygon points="584.00,814.70 574.50,814.70 574.50,812.55 568.00,816.30 574.50,820.05 574.50,817.90 584.00,817.90" fill="#a80e1a" />
<polygon points="603.90,814.70 594.40,814.70 594.40,812.55 587.90,816.30 594.40,820.05 594.40,817.90 603.90,817.90" fill="#a80e1a" />
<polygon points="543.30,831.70 533.80,831.70 533.80,829.55 527.30,833.30 533.80,837.05 533.80,834.90 543.30,834.90" fill="#a80e1a" />
<polygon points="563.10,831.70 553.60,831.70 553.60,829.55 547.10,833.30 553.60,837.05 553.60,834.90 563.10,834.90" fill="#a80e1a" />
<polygon points="584.00,831.70 574.50,831.70 574.50,829.55 568.00,833.30 574.50,837.05 574.50,834.90 584.00,834.90" fill="#a80e1a" />
<polygon points="603.90,831.70 594.40,831.70 594.40,829.55 587.90,833.30 594.40,837.05 594.40,834.90 603.90,834.90" fill="#a80e1a" />
<polygon points="543.30,848.20 533.80,848.20 533.80,846.05 527.30,849.80 533.80,853.55 533.80,851.40 543.30,851.40" fill="#a80e1a" />
<polygon points="563.10,848.20 553.60,848.20 553.60,846.05 547.10,849.80 553.60,853.55 553.60,851.40 563.10,851.40" fill="#a80e1a" />
<polygon points="584.00,848.20 574.50,848.20 574.50,846.05 568.00,849.80 574.50,853.55 574.50,851.40 584.00,851.40" fill="#a80e1a" />
<polygon points="603.90,848.20 594.40,848.20 594.40,846.05 587.90,849.80 594.40,853.55 594.40,851.40 603.90,851.40" fill="#a80e1a" />
<path d="M535.3,853.3 q4,1.5 3.5,5 q-0.5,3.5 -4.5,5" fill="none" stroke="#ecd23a" stroke-width="1.6"/>
<path d="M555.1,853.3 q4,1.5 3.5,5 q-0.5,3.5 -4.5,5" fill="none" stroke="#ecd23a" stroke-width="1.6"/>
<path d="M576.0,853.3 q4,1.5 3.5,5 q-0.5,3.5 -4.5,5" fill="none" stroke="#ecd23a" stroke-width="1.6"/>
<path d="M595.9,853.3 q4,1.5 3.5,5 q-0.5,3.5 -4.5,5" fill="none" stroke="#ecd23a" stroke-width="1.6"/>
<polygon points="527.30,867.30 536.30,867.30 536.30,869.45 543.30,865.70 536.30,861.95 536.30,864.10 527.30,864.10" fill="#1b4f86" />
<polygon points="547.10,867.30 556.10,867.30 556.10,869.45 563.10,865.70 556.10,861.95 556.10,864.10 547.10,864.10" fill="#1b4f86" />
<polygon points="568.00,867.30 577.00,867.30 577.00,869.45 584.00,865.70 577.00,861.95 577.00,864.10 568.00,864.10" fill="#1b4f86" />
<polygon points="587.90,867.30 596.90,867.30 596.90,869.45 603.90,865.70 596.90,861.95 596.90,864.10 587.90,864.10" fill="#1b4f86" />
<polygon points="543.30,881.10 534.30,881.10 534.30,878.95 527.30,882.70 534.30,886.45 534.30,884.30 543.30,884.30" fill="#1b4f86" />
<polygon points="563.10,881.10 554.10,881.10 554.10,878.95 547.10,882.70 554.10,886.45 554.10,884.30 563.10,884.30" fill="#1b4f86" />
<polygon points="584.00,881.10 575.00,881.10 575.00,878.95 568.00,882.70 575.00,886.45 575.00,884.30 584.00,884.30" fill="#1b4f86" />
<polygon points="603.90,881.10 594.90,881.10 594.90,878.95 587.90,882.70 594.90,886.45 594.90,884.30 603.90,884.30" fill="#1b4f86" />
<polygon points="527.30,900.30 536.30,900.30 536.30,902.45 543.30,898.70 536.30,894.95 536.30,897.10 527.30,897.10" fill="#1b4f86" />
<polygon points="547.10,900.30 556.10,900.30 556.10,902.45 563.10,898.70 556.10,894.95 556.10,897.10 547.10,897.10" fill="#1b4f86" />
<polygon points="568.00,900.30 577.00,900.30 577.00,902.45 584.00,898.70 577.00,894.95 577.00,897.10 568.00,897.10" fill="#1b4f86" />
<polygon points="587.90,900.30 596.90,900.30 596.90,902.45 603.90,898.70 596.90,894.95 596.90,897.10 587.90,897.10" fill="#1b4f86" />
<text x="615.7" y="837.7" font-size="11.5" fill="#b3101c" font-weight="bold" font-style="normal" text-anchor="start" textLength="17.4" lengthAdjust="spacingAndGlyphs" >FM</text>
<text x="615.1" y="886.8" font-size="11.5" fill="#1f5a8c" font-weight="bold" font-style="normal" text-anchor="start" textLength="25.5" lengthAdjust="spacingAndGlyphs" >AFM</text>
<rect x="778.5" y="807.2" width="93.5" height="50.1" fill="url(#gFMv)"/>
<rect x="778.5" y="857.3" width="93.5" height="50.1" fill="url(#gAFMv)"/>
<rect x="778.5" y="807.2" width="93.5" height="100.2" fill="none" stroke="#222" stroke-width="1.6"/>
<line x1="778.5" y1="857.3" x2="872" y2="857.3" stroke="#222" stroke-width="1.6"/>
<polygon points="801.42,818.99 794.73,814.25 795.97,812.50 788.50,811.80 791.64,818.62 792.88,816.86 799.58,821.61" fill="#a80e1a" />
<polygon points="821.22,818.99 814.53,814.25 815.77,812.50 808.30,811.80 811.44,818.62 812.68,816.86 819.38,821.61" fill="#a80e1a" />
<polygon points="842.12,818.99 835.43,814.25 836.67,812.50 829.20,811.80 832.34,818.62 833.58,816.86 840.28,821.61" fill="#a80e1a" />
<polygon points="862.02,818.99 855.33,814.25 856.57,812.50 849.10,811.80 852.24,818.62 853.48,816.86 860.18,821.61" fill="#a80e1a" />
<polygon points="801.42,835.99 794.73,831.25 795.97,829.50 788.50,828.80 791.64,835.62 792.88,833.86 799.58,838.61" fill="#a80e1a" />
<polygon points="821.22,835.99 814.53,831.25 815.77,829.50 808.30,828.80 811.44,835.62 812.68,833.86 819.38,838.61" fill="#a80e1a" />
<polygon points="842.12,835.99 835.43,831.25 836.67,829.50 829.20,828.80 832.34,835.62 833.58,833.86 840.28,838.61" fill="#a80e1a" />
<polygon points="862.02,835.99 855.33,831.25 856.57,829.50 849.10,828.80 852.24,835.62 853.48,833.86 860.18,838.61" fill="#a80e1a" />
<polygon points="801.42,852.49 794.73,847.75 795.97,846.00 788.50,845.30 791.64,852.12 792.88,850.36 799.58,855.11" fill="#a80e1a" />
<polygon points="821.22,852.49 814.53,847.75 815.77,846.00 808.30,845.30 811.44,852.12 812.68,850.36 819.38,855.11" fill="#a80e1a" />
<polygon points="842.12,852.49 835.43,847.75 836.67,846.00 829.20,845.30 832.34,852.12 833.58,850.36 840.28,855.11" fill="#a80e1a" />
<polygon points="862.02,852.49 855.33,847.75 856.57,846.00 849.10,845.30 852.24,852.12 853.48,850.36 860.18,855.11" fill="#a80e1a" />
<path d="M795.5,853.3 q4,1.5 3.5,5 q-0.5,3.5 -4.5,5" fill="none" stroke="#ecd23a" stroke-width="1.6"/>
<path d="M815.3,853.3 q4,1.5 3.5,5 q-0.5,3.5 -4.5,5" fill="none" stroke="#ecd23a" stroke-width="1.6"/>
<path d="M836.2,853.3 q4,1.5 3.5,5 q-0.5,3.5 -4.5,5" fill="none" stroke="#ecd23a" stroke-width="1.6"/>
<path d="M856.1,853.3 q4,1.5 3.5,5 q-0.5,3.5 -4.5,5" fill="none" stroke="#ecd23a" stroke-width="1.6"/>
<polygon points="787.50,867.30 796.50,867.30 796.50,869.45 803.50,865.70 796.50,861.95 796.50,864.10 787.50,864.10" fill="#1b4f86" />
<polygon points="807.30,867.30 816.30,867.30 816.30,869.45 823.30,865.70 816.30,861.95 816.30,864.10 807.30,864.10" fill="#1b4f86" />
<polygon points="828.20,867.30 837.20,867.30 837.20,869.45 844.20,865.70 837.20,861.95 837.20,864.10 828.20,864.10" fill="#1b4f86" />
<polygon points="848.10,867.30 857.10,867.30 857.10,869.45 864.10,865.70 857.10,861.95 857.10,864.10 848.10,864.10" fill="#1b4f86" />
<polygon points="803.50,881.10 794.50,881.10 794.50,878.95 787.50,882.70 794.50,886.45 794.50,884.30 803.50,884.30" fill="#1b4f86" />
<polygon points="823.30,881.10 814.30,881.10 814.30,878.95 807.30,882.70 814.30,886.45 814.30,884.30 823.30,884.30" fill="#1b4f86" />
<polygon points="844.20,881.10 835.20,881.10 835.20,878.95 828.20,882.70 835.20,886.45 835.20,884.30 844.20,884.30" fill="#1b4f86" />
<polygon points="864.10,881.10 855.10,881.10 855.10,878.95 848.10,882.70 855.10,886.45 855.10,884.30 864.10,884.30" fill="#1b4f86" />
<polygon points="787.50,900.30 796.50,900.30 796.50,902.45 803.50,898.70 796.50,894.95 796.50,897.10 787.50,897.10" fill="#1b4f86" />
<polygon points="807.30,900.30 816.30,900.30 816.30,902.45 823.30,898.70 816.30,894.95 816.30,897.10 807.30,897.10" fill="#1b4f86" />
<polygon points="828.20,900.30 837.20,900.30 837.20,902.45 844.20,898.70 837.20,894.95 837.20,897.10 828.20,897.10" fill="#1b4f86" />
<polygon points="848.10,900.30 857.10,900.30 857.10,902.45 864.10,898.70 857.10,894.95 857.10,897.10 848.10,897.10" fill="#1b4f86" />
<text x="875.8" y="837.7" font-size="11.5" fill="#b3101c" font-weight="bold" font-style="normal" text-anchor="start" textLength="17.4" lengthAdjust="spacingAndGlyphs" >FM</text>
<text x="875.2" y="886.8" font-size="11.5" fill="#1f5a8c" font-weight="bold" font-style="normal" text-anchor="start" textLength="25.5" lengthAdjust="spacingAndGlyphs" >AFM</text>
<polygon points="685.00,827.00 685.00,558.70 687.60,558.70 683.60,548.70 679.60,558.70 682.20,558.70 682.20,827.00" fill="#000" />
<polygon points="471.00,695.70 887.50,695.70 887.50,698.30 897.50,694.30 887.50,690.30 887.50,692.90 471.00,692.90" fill="#000" />
<text x="655.0" y="573.5" font-size="21" fill="#000" font-weight="bold" font-style="normal" text-anchor="start" textLength="19.8" lengthAdjust="spacingAndGlyphs" >M</text>
<text x="860.0" y="720.5" font-size="21" fill="#000" font-weight="bold" font-style="normal" text-anchor="start" textLength="14.6" lengthAdjust="spacingAndGlyphs" >H</text>
<path d="M823.20,589.50 C816.72,589.37 797.28,588.58 784.30,588.70 C771.32,588.82 756.98,589.52 745.30,590.20 C733.62,590.88 724.48,591.97 714.20,592.80 C703.92,593.63 693.12,594.03 683.60,595.20 C674.08,596.37 664.97,598.17 657.10,599.80 C649.23,601.43 642.23,602.83 636.40,605.00 C630.57,607.17 626.42,609.55 622.10,612.80 C617.78,616.05 613.95,619.97 610.50,624.50 C607.05,629.03 604.00,634.38 601.40,640.00 C598.80,645.62 596.85,651.70 594.90,658.20 C592.95,664.70 590.92,672.95 589.70,679.00 C588.48,685.05 588.38,688.45 587.60,694.50 C586.82,700.55 585.95,708.38 585.00,715.30 C584.05,722.22 583.72,729.08 581.90,736.00 C580.08,742.92 577.12,750.75 574.10,756.80 C571.08,762.85 568.55,767.33 563.80,772.30 C559.05,777.27 552.08,782.92 545.60,786.60 C539.12,790.28 532.68,792.58 524.90,794.40 C517.12,796.22 508.42,796.98 498.90,797.50 C489.38,798.02 472.98,797.50 467.80,797.50" fill="none" stroke="#13286a" stroke-width="2.8" stroke-linecap="round"/>
<path d="M467.80,797.50 C475.15,797.55 495.90,797.97 511.90,797.80 C527.90,797.63 546.52,797.28 563.80,796.50 C581.08,795.72 600.05,795.40 615.60,793.10 C631.15,790.80 647.15,786.17 657.10,782.70 C667.05,779.23 670.88,775.53 675.30,772.30 C679.72,769.07 680.78,767.62 683.60,763.30 C686.42,758.98 689.90,752.25 692.20,746.40 C694.50,740.55 695.90,734.25 697.40,728.20 C698.90,722.15 700.13,715.72 701.20,710.10 C702.27,704.48 702.93,700.98 703.80,694.50 C704.67,688.02 705.32,679.42 706.40,671.20 C707.48,662.98 708.78,652.55 710.30,645.20 C711.82,637.85 713.12,632.72 715.50,627.10 C717.88,621.48 720.48,616.27 724.60,611.50 C728.72,606.73 734.15,601.95 740.20,598.50 C746.25,595.05 753.55,592.43 760.90,590.80 C768.25,589.17 780.40,589.05 784.30,588.70" fill="none" stroke="#13286a" stroke-width="2.8" stroke-linecap="round"/>
<line x1="648" y1="609" x2="648" y2="693" stroke="#e8141e" stroke-width="2.4" stroke-dasharray="8 4"/>
<polygon points="648.00,647.45 744.40,647.45 744.40,649.70 754.40,645.20 744.40,640.70 744.40,642.95 648.00,642.95" fill="#e8141e" />
<line x1="648" y1="643" x2="648" y2="647.5" stroke="#e8141e" stroke-width="2.4"/>
<text x="729.8" y="668.6" font-size="20" fill="#000" font-weight="bold" font-style="normal" text-anchor="start" textLength="14.2" lengthAdjust="spacingAndGlyphs" >H</text>
<text x="745.3" y="673.8" font-size="14" fill="#000" font-weight="bold" font-style="normal" text-anchor="start" textLength="19.5" lengthAdjust="spacingAndGlyphs" >EB</text>
<circle cx="622.1" cy="612.8" r="9" fill="none" stroke="#e8141e" stroke-width="2.2"/>
<circle cx="794.6" cy="589.5" r="9" fill="none" stroke="#e8141e" stroke-width="2.2"/>
<circle cx="696.6" cy="732.1" r="9" fill="none" stroke="#e8141e" stroke-width="2.2"/>
<circle cx="483.9" cy="795.2" r="9" fill="none" stroke="#e8141e" stroke-width="2.2"/>
<line x1="617.50" y1="604.50" x2="599.12" y2="561.17" stroke="#e8141e" stroke-width="2.2"/>
<polygon points="596.00,553.80 603.20,560.52 595.83,563.65" fill="#e8141e"/>
<line x1="800.00" y1="581.50" x2="813.64" y2="560.51" stroke="#e8141e" stroke-width="2.2"/>
<polygon points="818.00,553.80 816.45,563.53 809.74,559.17" fill="#e8141e"/>
<line x1="703.00" y1="739.00" x2="770.92" y2="797.00" stroke="#e8141e" stroke-width="2.2"/>
<polygon points="777.00,802.20 767.56,799.40 772.75,793.31" fill="#e8141e"/>
<line x1="489.00" y1="803.50" x2="506.71" y2="836.45" stroke="#e8141e" stroke-width="2.2"/>
<polygon points="510.50,843.50 502.72,837.47 509.76,833.68" fill="#e8141e"/>
<text x="933.9" y="47.4" font-size="54.5" fill="#000" font-weight="bold" font-style="normal" text-anchor="start" >b</text>
<clipPath id="cpb"><rect x="1014.3" y="24.8" width="299.10000000000014" height="240.2"/></clipPath>
<path d="M1014.30,244.49 L1015.05,244.42 L1015.80,244.35 L1016.54,244.28 L1017.29,244.21 L1018.04,244.14 L1018.79,244.07 L1019.53,243.99 L1020.28,243.92 L1021.03,243.84 L1021.78,243.76 L1022.53,243.69 L1023.27,243.61 L1024.02,243.53 L1024.77,243.45 L1025.52,243.37 L1026.26,243.29 L1027.01,243.21 L1027.76,243.13 L1028.51,243.04 L1029.25,242.96 L1030.00,242.88 L1030.75,242.79 L1031.50,242.70 L1032.25,242.62 L1032.99,242.53 L1033.74,242.44 L1034.49,242.35 L1035.24,242.26 L1035.98,242.16 L1036.73,242.07 L1037.48,241.98 L1038.23,241.88 L1038.98,241.79 L1039.72,241.69 L1040.47,241.59 L1041.22,241.49 L1041.97,241.39 L1042.71,241.29 L1043.46,241.19 L1044.21,241.08 L1044.96,240.98 L1045.71,240.87 L1046.45,240.76 L1047.20,240.65 L1047.95,240.54 L1048.70,240.43 L1049.44,240.32 L1050.19,240.21 L1050.94,240.09 L1051.69,239.97 L1052.44,239.86 L1053.18,239.74 L1053.93,239.61 L1054.68,239.49 L1055.43,239.37 L1056.17,239.24 L1056.92,239.12 L1057.67,238.99 L1058.42,238.86 L1059.16,238.72 L1059.91,238.59 L1060.66,238.46 L1061.41,238.32 L1062.16,238.18 L1062.90,238.04 L1063.65,237.90 L1064.40,237.75 L1065.15,237.61 L1065.89,237.46 L1066.64,237.31 L1067.39,237.16 L1068.14,237.00 L1068.89,236.84 L1069.63,236.69 L1070.38,236.52 L1071.13,236.36 L1071.88,236.20 L1072.62,236.03 L1073.37,235.86 L1074.12,235.68 L1074.87,235.51 L1075.62,235.33 L1076.36,235.15 L1077.11,234.97 L1077.86,234.78 L1078.61,234.59 L1079.35,234.40 L1080.10,234.21 L1080.85,234.01 L1081.60,233.81 L1082.35,233.61 L1083.09,233.40 L1083.84,233.19 L1084.59,232.97 L1085.34,232.76 L1086.08,232.54 L1086.83,232.31 L1087.58,232.08 L1088.33,231.85 L1089.08,231.62 L1089.82,231.38 L1090.57,231.13 L1091.32,230.89 L1092.07,230.63 L1092.81,230.38 L1093.56,230.12 L1094.31,229.85 L1095.06,229.58 L1095.80,229.30 L1096.55,229.02 L1097.30,228.74 L1098.05,228.44 L1098.80,228.15 L1099.54,227.85 L1100.29,227.54 L1101.04,227.22 L1101.79,226.90 L1102.53,226.58 L1103.28,226.24 L1104.03,225.90 L1104.78,225.56 L1105.53,225.20 L1106.27,224.84 L1107.02,224.47 L1107.77,224.10 L1108.52,223.71 L1109.26,223.32 L1110.01,222.92 L1110.76,222.51 L1111.51,222.09 L1112.26,221.66 L1113.00,221.23 L1113.75,220.78 L1114.50,220.32 L1115.25,219.85 L1115.99,219.37 L1116.74,218.88 L1117.49,218.38 L1118.24,217.86 L1118.98,217.33 L1119.73,216.79 L1120.48,216.24 L1121.23,215.67 L1121.98,215.08 L1122.72,214.49 L1123.47,213.87 L1124.22,213.24 L1124.97,212.59 L1125.71,211.93 L1126.46,211.24 L1127.21,210.54 L1127.96,209.82 L1128.71,209.08 L1129.45,208.31 L1130.20,207.53 L1130.95,206.72 L1131.70,205.89 L1132.44,205.03 L1133.19,204.14 L1133.94,203.23 L1134.69,202.29 L1135.44,201.33 L1136.18,200.33 L1136.93,199.30 L1137.68,198.24 L1138.43,197.14 L1139.17,196.01 L1139.92,194.84 L1140.67,193.63 L1141.42,192.38 L1142.17,191.09 L1142.91,189.76 L1143.66,188.38 L1144.41,186.96 L1145.16,185.49 L1145.90,183.97 L1146.65,182.40 L1147.40,180.79 L1148.15,179.11 L1148.89,177.39 L1149.64,175.61 L1150.39,173.78 L1151.14,171.89 L1151.89,169.95 L1152.63,167.96 L1153.38,165.92 L1154.13,163.82 L1154.88,161.68 L1155.62,159.50 L1156.37,157.27 L1157.12,155.01 L1157.87,152.71 L1158.62,150.39 L1159.36,148.05 L1160.11,145.70 L1160.86,143.33 L1161.61,140.97 L1162.35,138.61 L1163.10,136.27 L1163.85,133.94 L1164.60,131.64 L1165.35,129.38 L1166.09,127.14 L1166.84,124.95 L1167.59,122.80 L1168.34,120.69 L1169.08,118.64 L1169.83,116.64 L1170.58,114.69 L1171.33,112.79 L1172.08,110.95 L1172.82,109.16 L1173.57,107.42 L1174.32,105.74 L1175.07,104.11 L1175.81,102.53 L1176.56,101.01 L1177.31,99.53 L1178.06,98.10 L1178.81,96.71 L1179.55,95.37 L1180.30,94.07 L1181.05,92.82 L1181.80,91.60 L1182.54,90.42 L1183.29,89.28 L1184.04,88.18 L1184.79,87.11 L1185.53,86.07 L1186.28,85.07 L1187.03,84.09 L1187.78,83.15 L1188.53,82.23 L1189.27,81.34 L1190.02,80.48 L1190.77,79.64 L1191.52,78.83 L1192.26,78.04 L1193.01,77.27 L1193.76,76.52 L1194.51,75.80 L1195.26,75.09 L1196.00,74.40 L1196.75,73.74 L1197.50,73.08 L1198.25,72.45 L1198.99,71.83 L1199.74,71.23 L1200.49,70.65 L1201.24,70.07 L1201.99,69.52 L1202.73,68.97 L1203.48,68.44 L1204.23,67.92 L1204.98,67.42 L1205.72,66.92 L1206.47,66.44 L1207.22,65.97 L1207.97,65.51 L1208.72,65.06 L1209.46,64.62 L1210.21,64.19 L1210.96,63.77 L1211.71,63.36 L1212.45,62.96 L1213.20,62.56 L1213.95,62.18 L1214.70,61.80 L1215.44,61.43 L1216.19,61.06 L1216.94,60.71 L1217.69,60.36 L1218.44,60.02 L1219.18,59.69 L1219.93,59.36 L1220.68,59.04 L1221.43,58.72 L1222.17,58.41 L1222.92,58.11 L1223.67,57.81 L1224.42,57.52 L1225.17,57.23 L1225.91,56.95 L1226.66,56.67 L1227.41,56.40 L1228.16,56.13 L1228.90,55.87 L1229.65,55.61 L1230.40,55.36 L1231.15,55.11 L1231.90,54.87 L1232.64,54.63 L1233.39,54.39 L1234.14,54.16 L1234.89,53.93 L1235.63,53.70 L1236.38,53.48 L1237.13,53.27 L1237.88,53.05 L1238.62,52.84 L1239.37,52.63 L1240.12,52.43 L1240.87,52.23 L1241.62,52.03 L1242.36,51.83 L1243.11,51.64 L1243.86,51.45 L1244.61,51.27 L1245.35,51.08 L1246.10,50.90 L1246.85,50.72 L1247.60,50.55 L1248.35,50.37 L1249.09,50.20 L1249.84,50.03 L1250.59,49.87 L1251.34,49.71 L1252.08,49.54 L1252.83,49.38 L1253.58,49.23 L1254.33,49.07 L1255.08,48.92 L1255.82,48.77 L1256.57,48.62 L1257.32,48.47 L1258.07,48.33 L1258.81,48.19 L1259.56,48.05 L1260.31,47.91 L1261.06,47.77 L1261.81,47.63 L1262.55,47.50 L1263.30,47.37 L1264.05,47.24 L1264.80,47.11 L1265.54,46.98 L1266.29,46.85 L1267.04,46.73 L1267.79,46.61 L1268.54,46.49 L1269.28,46.37 L1270.03,46.25 L1270.78,46.13 L1271.53,46.01 L1272.27,45.90 L1273.02,45.79 L1273.77,45.68 L1274.52,45.57 L1275.26,45.46 L1276.01,45.35 L1276.76,45.24 L1277.51,45.14 L1278.26,45.03 L1279.00,44.93 L1279.75,44.83 L1280.50,44.73 L1281.25,44.63 L1281.99,44.53 L1282.74,44.43 L1283.49,44.33 L1284.24,44.24 L1284.99,44.14 L1285.73,44.05 L1286.48,43.96 L1287.23,43.87 L1287.98,43.78 L1288.72,43.69 L1289.47,43.60 L1290.22,43.51 L1290.97,43.42 L1291.72,43.34 L1292.46,43.25 L1293.21,43.17 L1293.96,43.09 L1294.71,43.00 L1295.45,42.92 L1296.20,42.84 L1296.95,42.76 L1297.70,42.68 L1298.45,42.60 L1299.19,42.52 L1299.94,42.45 L1300.69,42.37 L1301.44,42.30 L1302.18,42.22 L1302.93,42.15 L1303.68,42.07 L1304.43,42.00 L1305.17,41.93 L1305.92,41.86 L1306.67,41.79 L1307.42,41.72 L1308.17,41.65 L1308.91,41.58 L1309.66,41.51 L1310.41,41.44 L1311.16,41.38 L1311.90,41.31 L1312.65,41.24 L1313.40,41.18" fill="none" stroke="#6420c4" stroke-width="2.2" stroke-linejoin="round" stroke-linecap="round" clip-path="url(#cpb)"/>
<path d="M1014.30,244.93 L1015.05,244.86 L1015.80,244.80 L1016.54,244.73 L1017.29,244.66 L1018.04,244.59 L1018.79,244.52 L1019.53,244.45 L1020.28,244.38 L1021.03,244.31 L1021.78,244.24 L1022.53,244.17 L1023.27,244.09 L1024.02,244.02 L1024.77,243.95 L1025.52,243.87 L1026.26,243.80 L1027.01,243.72 L1027.76,243.64 L1028.51,243.56 L1029.25,243.48 L1030.00,243.40 L1030.75,243.32 L1031.50,243.24 L1032.25,243.16 L1032.99,243.08 L1033.74,242.99 L1034.49,242.91 L1035.24,242.82 L1035.98,242.74 L1036.73,242.65 L1037.48,242.56 L1038.23,242.47 L1038.98,242.38 L1039.72,242.29 L1040.47,242.20 L1041.22,242.11 L1041.97,242.01 L1042.71,241.92 L1043.46,241.82 L1044.21,241.73 L1044.96,241.63 L1045.71,241.53 L1046.45,241.43 L1047.20,241.33 L1047.95,241.23 L1048.70,241.12 L1049.44,241.02 L1050.19,240.91 L1050.94,240.81 L1051.69,240.70 L1052.44,240.59 L1053.18,240.48 L1053.93,240.36 L1054.68,240.25 L1055.43,240.14 L1056.17,240.02 L1056.92,239.90 L1057.67,239.78 L1058.42,239.66 L1059.16,239.54 L1059.91,239.42 L1060.66,239.29 L1061.41,239.17 L1062.16,239.04 L1062.90,238.91 L1063.65,238.78 L1064.40,238.64 L1065.15,238.51 L1065.89,238.37 L1066.64,238.24 L1067.39,238.10 L1068.14,237.95 L1068.89,237.81 L1069.63,237.66 L1070.38,237.52 L1071.13,237.37 L1071.88,237.22 L1072.62,237.06 L1073.37,236.91 L1074.12,236.75 L1074.87,236.59 L1075.62,236.43 L1076.36,236.26 L1077.11,236.10 L1077.86,235.93 L1078.61,235.75 L1079.35,235.58 L1080.10,235.40 L1080.85,235.22 L1081.60,235.04 L1082.35,234.86 L1083.09,234.67 L1083.84,234.48 L1084.59,234.29 L1085.34,234.09 L1086.08,233.89 L1086.83,233.69 L1087.58,233.48 L1088.33,233.27 L1089.08,233.06 L1089.82,232.84 L1090.57,232.63 L1091.32,232.40 L1092.07,232.18 L1092.81,231.95 L1093.56,231.71 L1094.31,231.47 L1095.06,231.23 L1095.80,230.99 L1096.55,230.73 L1097.30,230.48 L1098.05,230.22 L1098.80,229.96 L1099.54,229.69 L1100.29,229.41 L1101.04,229.13 L1101.79,228.85 L1102.53,228.56 L1103.28,228.27 L1104.03,227.97 L1104.78,227.66 L1105.53,227.35 L1106.27,227.03 L1107.02,226.71 L1107.77,226.38 L1108.52,226.04 L1109.26,225.70 L1110.01,225.35 L1110.76,224.99 L1111.51,224.62 L1112.26,224.25 L1113.00,223.87 L1113.75,223.48 L1114.50,223.08 L1115.25,222.68 L1115.99,222.26 L1116.74,221.84 L1117.49,221.40 L1118.24,220.96 L1118.98,220.50 L1119.73,220.04 L1120.48,219.56 L1121.23,219.08 L1121.98,218.58 L1122.72,218.07 L1123.47,217.55 L1124.22,217.01 L1124.97,216.46 L1125.71,215.90 L1126.46,215.32 L1127.21,214.73 L1127.96,214.12 L1128.71,213.49 L1129.45,212.85 L1130.20,212.20 L1130.95,211.52 L1131.70,210.83 L1132.44,210.11 L1133.19,209.38 L1133.94,208.62 L1134.69,207.84 L1135.44,207.05 L1136.18,206.22 L1136.93,205.37 L1137.68,204.50 L1138.43,203.60 L1139.17,202.67 L1139.92,201.72 L1140.67,200.73 L1141.42,199.71 L1142.17,198.67 L1142.91,197.58 L1143.66,196.46 L1144.41,195.31 L1145.16,194.12 L1145.90,192.88 L1146.65,191.61 L1147.40,190.30 L1148.15,188.94 L1148.89,187.53 L1149.64,186.08 L1150.39,184.59 L1151.14,183.04 L1151.89,181.44 L1152.63,179.79 L1153.38,178.09 L1154.13,176.33 L1154.88,174.52 L1155.62,172.65 L1156.37,170.74 L1157.12,168.77 L1157.87,166.74 L1158.62,164.67 L1159.36,162.55 L1160.11,160.38 L1160.86,158.17 L1161.61,155.92 L1162.35,153.64 L1163.10,151.32 L1163.85,148.99 L1164.60,146.64 L1165.35,144.28 L1166.09,141.92 L1166.84,139.56 L1167.59,137.21 L1168.34,134.87 L1169.08,132.56 L1169.83,130.28 L1170.58,128.03 L1171.33,125.82 L1172.08,123.65 L1172.82,121.53 L1173.57,119.45 L1174.32,117.43 L1175.07,115.46 L1175.81,113.54 L1176.56,111.68 L1177.31,109.87 L1178.06,108.11 L1178.81,106.41 L1179.55,104.76 L1180.30,103.16 L1181.05,101.61 L1181.80,100.11 L1182.54,98.66 L1183.29,97.26 L1184.04,95.90 L1184.79,94.59 L1185.53,93.31 L1186.28,92.08 L1187.03,90.89 L1187.78,89.73 L1188.53,88.62 L1189.27,87.53 L1190.02,86.48 L1190.77,85.47 L1191.52,84.48 L1192.26,83.52 L1193.01,82.60 L1193.76,81.70 L1194.51,80.82 L1195.26,79.98 L1196.00,79.15 L1196.75,78.35 L1197.50,77.58 L1198.25,76.82 L1198.99,76.09 L1199.74,75.37 L1200.49,74.68 L1201.24,74.00 L1201.99,73.34 L1202.73,72.70 L1203.48,72.08 L1204.23,71.47 L1204.98,70.88 L1205.72,70.30 L1206.47,69.74 L1207.22,69.19 L1207.97,68.65 L1208.72,68.13 L1209.46,67.62 L1210.21,67.12 L1210.96,66.63 L1211.71,66.16 L1212.45,65.69 L1213.20,65.24 L1213.95,64.80 L1214.70,64.36 L1215.44,63.94 L1216.19,63.52 L1216.94,63.12 L1217.69,62.72 L1218.44,62.33 L1219.18,61.95 L1219.93,61.57 L1220.68,61.21 L1221.43,60.85 L1222.17,60.50 L1222.92,60.16 L1223.67,59.82 L1224.42,59.49 L1225.17,59.16 L1225.91,58.85 L1226.66,58.54 L1227.41,58.23 L1228.16,57.93 L1228.90,57.64 L1229.65,57.35 L1230.40,57.06 L1231.15,56.78 L1231.90,56.51 L1232.64,56.24 L1233.39,55.98 L1234.14,55.72 L1234.89,55.46 L1235.63,55.21 L1236.38,54.97 L1237.13,54.72 L1237.88,54.49 L1238.62,54.25 L1239.37,54.02 L1240.12,53.79 L1240.87,53.57 L1241.62,53.35 L1242.36,53.14 L1243.11,52.92 L1243.86,52.72 L1244.61,52.51 L1245.35,52.31 L1246.10,52.11 L1246.85,51.91 L1247.60,51.72 L1248.35,51.53 L1249.09,51.34 L1249.84,51.16 L1250.59,50.97 L1251.34,50.79 L1252.08,50.62 L1252.83,50.44 L1253.58,50.27 L1254.33,50.10 L1255.08,49.93 L1255.82,49.77 L1256.57,49.61 L1257.32,49.45 L1258.07,49.29 L1258.81,49.13 L1259.56,48.98 L1260.31,48.83 L1261.06,48.68 L1261.81,48.53 L1262.55,48.39 L1263.30,48.24 L1264.05,48.10 L1264.80,47.96 L1265.54,47.82 L1266.29,47.69 L1267.04,47.55 L1267.79,47.42 L1268.54,47.29 L1269.28,47.16 L1270.03,47.03 L1270.78,46.90 L1271.53,46.78 L1272.27,46.66 L1273.02,46.53 L1273.77,46.41 L1274.52,46.29 L1275.26,46.18 L1276.01,46.06 L1276.76,45.95 L1277.51,45.83 L1278.26,45.72 L1279.00,45.61 L1279.75,45.50 L1280.50,45.39 L1281.25,45.28 L1281.99,45.18 L1282.74,45.07 L1283.49,44.97 L1284.24,44.87 L1284.99,44.77 L1285.73,44.67 L1286.48,44.57 L1287.23,44.47 L1287.98,44.37 L1288.72,44.28 L1289.47,44.18 L1290.22,44.09 L1290.97,44.00 L1291.72,43.90 L1292.46,43.81 L1293.21,43.72 L1293.96,43.63 L1294.71,43.55 L1295.45,43.46 L1296.20,43.37 L1296.95,43.29 L1297.70,43.20 L1298.45,43.12 L1299.19,43.04 L1299.94,42.95 L1300.69,42.87 L1301.44,42.79 L1302.18,42.71 L1302.93,42.63 L1303.68,42.56 L1304.43,42.48 L1305.17,42.40 L1305.92,42.33 L1306.67,42.25 L1307.42,42.18 L1308.17,42.10 L1308.91,42.03 L1309.66,41.96 L1310.41,41.89 L1311.16,41.81 L1311.90,41.74 L1312.65,41.67 L1313.40,41.61" fill="none" stroke="#6420c4" stroke-width="2.2" stroke-linejoin="round" stroke-linecap="round" clip-path="url(#cpb)"/>
<path d="M1014.30,227.09 L1015.05,227.04 L1015.80,226.99 L1016.54,226.94 L1017.29,226.89 L1018.04,226.84 L1018.79,226.79 L1019.53,226.74 L1020.28,226.68 L1021.03,226.63 L1021.78,226.58 L1022.53,226.52 L1023.27,226.47 L1024.02,226.42 L1024.77,226.36 L1025.52,226.30 L1026.26,226.25 L1027.01,226.19 L1027.76,226.13 L1028.51,226.08 L1029.25,226.02 L1030.00,225.96 L1030.75,225.90 L1031.50,225.84 L1032.25,225.78 L1032.99,225.72 L1033.74,225.65 L1034.49,225.59 L1035.24,225.53 L1035.98,225.46 L1036.73,225.40 L1037.48,225.33 L1038.23,225.27 L1038.98,225.20 L1039.72,225.13 L1040.47,225.06 L1041.22,224.99 L1041.97,224.92 L1042.71,224.85 L1043.46,224.78 L1044.21,224.71 L1044.96,224.64 L1045.71,224.56 L1046.45,224.49 L1047.20,224.41 L1047.95,224.34 L1048.70,224.26 L1049.44,224.18 L1050.19,224.10 L1050.94,224.03 L1051.69,223.94 L1052.44,223.86 L1053.18,223.78 L1053.93,223.70 L1054.68,223.61 L1055.43,223.53 L1056.17,223.44 L1056.92,223.35 L1057.67,223.26 L1058.42,223.17 L1059.16,223.08 L1059.91,222.99 L1060.66,222.90 L1061.41,222.81 L1062.16,222.71 L1062.90,222.61 L1063.65,222.52 L1064.40,222.42 L1065.15,222.32 L1065.89,222.21 L1066.64,222.11 L1067.39,222.01 L1068.14,221.90 L1068.89,221.79 L1069.63,221.69 L1070.38,221.58 L1071.13,221.46 L1071.88,221.35 L1072.62,221.24 L1073.37,221.12 L1074.12,221.00 L1074.87,220.88 L1075.62,220.76 L1076.36,220.64 L1077.11,220.51 L1077.86,220.39 L1078.61,220.26 L1079.35,220.13 L1080.10,220.00 L1080.85,219.86 L1081.60,219.73 L1082.35,219.59 L1083.09,219.45 L1083.84,219.31 L1084.59,219.16 L1085.34,219.02 L1086.08,218.87 L1086.83,218.71 L1087.58,218.56 L1088.33,218.40 L1089.08,218.25 L1089.82,218.08 L1090.57,217.92 L1091.32,217.75 L1092.07,217.58 L1092.81,217.41 L1093.56,217.23 L1094.31,217.06 L1095.06,216.87 L1095.80,216.69 L1096.55,216.50 L1097.30,216.31 L1098.05,216.11 L1098.80,215.92 L1099.54,215.71 L1100.29,215.51 L1101.04,215.30 L1101.79,215.08 L1102.53,214.87 L1103.28,214.64 L1104.03,214.42 L1104.78,214.19 L1105.53,213.95 L1106.27,213.71 L1107.02,213.47 L1107.77,213.22 L1108.52,212.96 L1109.26,212.70 L1110.01,212.44 L1110.76,212.17 L1111.51,211.89 L1112.26,211.61 L1113.00,211.32 L1113.75,211.02 L1114.50,210.72 L1115.25,210.41 L1115.99,210.09 L1116.74,209.77 L1117.49,209.44 L1118.24,209.10 L1118.98,208.75 L1119.73,208.40 L1120.48,208.03 L1121.23,207.66 L1121.98,207.27 L1122.72,206.88 L1123.47,206.48 L1124.22,206.06 L1124.97,205.64 L1125.71,205.20 L1126.46,204.75 L1127.21,204.29 L1127.96,203.82 L1128.71,203.33 L1129.45,202.83 L1130.20,202.32 L1130.95,201.79 L1131.70,201.24 L1132.44,200.68 L1133.19,200.09 L1133.94,199.49 L1134.69,198.88 L1135.44,198.24 L1136.18,197.58 L1136.93,196.89 L1137.68,196.19 L1138.43,195.46 L1139.17,194.70 L1139.92,193.91 L1140.67,193.10 L1141.42,192.26 L1142.17,191.38 L1142.91,190.47 L1143.66,189.53 L1144.41,188.54 L1145.16,187.52 L1145.90,186.45 L1146.65,185.33 L1147.40,184.17 L1148.15,182.95 L1148.89,181.68 L1149.64,180.35 L1150.39,178.96 L1151.14,177.49 L1151.89,175.96 L1152.63,174.34 L1153.38,172.65 L1154.13,170.86 L1154.88,168.97 L1155.62,166.98 L1156.37,164.89 L1157.12,162.67 L1157.87,160.33 L1158.62,157.87 L1159.36,155.29 L1160.11,152.59 L1160.86,149.79 L1161.61,146.93 L1162.35,144.03 L1163.10,141.15 L1163.85,138.32 L1164.60,135.58 L1165.35,132.95 L1166.09,130.44 L1166.84,128.05 L1167.59,125.79 L1168.34,123.64 L1169.08,121.61 L1169.83,119.68 L1170.58,117.86 L1171.33,116.12 L1172.08,114.48 L1172.82,112.91 L1173.57,111.42 L1174.32,110.00 L1175.07,108.64 L1175.81,107.35 L1176.56,106.11 L1177.31,104.93 L1178.06,103.79 L1178.81,102.71 L1179.55,101.66 L1180.30,100.66 L1181.05,99.70 L1181.80,98.78 L1182.54,97.89 L1183.29,97.03 L1184.04,96.21 L1184.79,95.41 L1185.53,94.64 L1186.28,93.90 L1187.03,93.19 L1187.78,92.49 L1188.53,91.83 L1189.27,91.18 L1190.02,90.55 L1190.77,89.94 L1191.52,89.35 L1192.26,88.78 L1193.01,88.23 L1193.76,87.69 L1194.51,87.17 L1195.26,86.66 L1196.00,86.17 L1196.75,85.69 L1197.50,85.23 L1198.25,84.77 L1198.99,84.33 L1199.74,83.90 L1200.49,83.49 L1201.24,83.08 L1201.99,82.68 L1202.73,82.30 L1203.48,81.92 L1204.23,81.55 L1204.98,81.19 L1205.72,80.84 L1206.47,80.50 L1207.22,80.16 L1207.97,79.84 L1208.72,79.52 L1209.46,79.20 L1210.21,78.90 L1210.96,78.60 L1211.71,78.31 L1212.45,78.02 L1213.20,77.74 L1213.95,77.47 L1214.70,77.20 L1215.44,76.94 L1216.19,76.68 L1216.94,76.43 L1217.69,76.18 L1218.44,75.94 L1219.18,75.71 L1219.93,75.47 L1220.68,75.25 L1221.43,75.02 L1222.17,74.80 L1222.92,74.59 L1223.67,74.38 L1224.42,74.17 L1225.17,73.96 L1225.91,73.76 L1226.66,73.57 L1227.41,73.37 L1228.16,73.19 L1228.90,73.00 L1229.65,72.82 L1230.40,72.64 L1231.15,72.46 L1231.90,72.29 L1232.64,72.11 L1233.39,71.95 L1234.14,71.78 L1234.89,71.62 L1235.63,71.46 L1236.38,71.30 L1237.13,71.15 L1237.88,70.99 L1238.62,70.84 L1239.37,70.70 L1240.12,70.55 L1240.87,70.41 L1241.62,70.27 L1242.36,70.13 L1243.11,69.99 L1243.86,69.86 L1244.61,69.72 L1245.35,69.59 L1246.10,69.46 L1246.85,69.34 L1247.60,69.21 L1248.35,69.09 L1249.09,68.96 L1249.84,68.84 L1250.59,68.73 L1251.34,68.61 L1252.08,68.49 L1252.83,68.38 L1253.58,68.27 L1254.33,68.16 L1255.08,68.05 L1255.82,67.94 L1256.57,67.83 L1257.32,67.73 L1258.07,67.63 L1258.81,67.52 L1259.56,67.42 L1260.31,67.32 L1261.06,67.23 L1261.81,67.13 L1262.55,67.03 L1263.30,66.94 L1264.05,66.84 L1264.80,66.75 L1265.54,66.66 L1266.29,66.57 L1267.04,66.48 L1267.79,66.39 L1268.54,66.31 L1269.28,66.22 L1270.03,66.14 L1270.78,66.05 L1271.53,65.97 L1272.27,65.89 L1273.02,65.81 L1273.77,65.73 L1274.52,65.65 L1275.26,65.57 L1276.01,65.49 L1276.76,65.42 L1277.51,65.34 L1278.26,65.27 L1279.00,65.19 L1279.75,65.12 L1280.50,65.05 L1281.25,64.97 L1281.99,64.90 L1282.74,64.83 L1283.49,64.76 L1284.24,64.70 L1284.99,64.63 L1285.73,64.56 L1286.48,64.49 L1287.23,64.43 L1287.98,64.36 L1288.72,64.30 L1289.47,64.24 L1290.22,64.17 L1290.97,64.11 L1291.72,64.05 L1292.46,63.99 L1293.21,63.93 L1293.96,63.87 L1294.71,63.81 L1295.45,63.75 L1296.20,63.69 L1296.95,63.63 L1297.70,63.57 L1298.45,63.52 L1299.19,63.46 L1299.94,63.41 L1300.69,63.35 L1301.44,63.30 L1302.18,63.24 L1302.93,63.19 L1303.68,63.14 L1304.43,63.08 L1305.17,63.03 L1305.92,62.98 L1306.67,62.93 L1307.42,62.88 L1308.17,62.83 L1308.91,62.78 L1309.66,62.73 L1310.41,62.68 L1311.16,62.63 L1311.90,62.59 L1312.65,62.54 L1313.40,62.49" fill="none" stroke="#f39a3a" stroke-width="2.2" stroke-linejoin="round" stroke-linecap="round" clip-path="url(#cpb)"/>
<path d="M1014.30,227.23 L1015.05,227.19 L1015.80,227.14 L1016.54,227.09 L1017.29,227.04 L1018.04,226.99 L1018.79,226.94 L1019.53,226.89 L1020.28,226.84 L1021.03,226.79 L1021.78,226.74 L1022.53,226.68 L1023.27,226.63 L1024.02,226.58 L1024.77,226.52 L1025.52,226.47 L1026.26,226.42 L1027.01,226.36 L1027.76,226.30 L1028.51,226.25 L1029.25,226.19 L1030.00,226.13 L1030.75,226.08 L1031.50,226.02 L1032.25,225.96 L1032.99,225.90 L1033.74,225.84 L1034.49,225.78 L1035.24,225.72 L1035.98,225.65 L1036.73,225.59 L1037.48,225.53 L1038.23,225.46 L1038.98,225.40 L1039.72,225.33 L1040.47,225.27 L1041.22,225.20 L1041.97,225.13 L1042.71,225.06 L1043.46,224.99 L1044.21,224.92 L1044.96,224.85 L1045.71,224.78 L1046.45,224.71 L1047.20,224.64 L1047.95,224.56 L1048.70,224.49 L1049.44,224.41 L1050.19,224.34 L1050.94,224.26 L1051.69,224.18 L1052.44,224.10 L1053.18,224.03 L1053.93,223.94 L1054.68,223.86 L1055.43,223.78 L1056.17,223.70 L1056.92,223.61 L1057.67,223.53 L1058.42,223.44 L1059.16,223.35 L1059.91,223.26 L1060.66,223.17 L1061.41,223.08 L1062.16,222.99 L1062.90,222.90 L1063.65,222.81 L1064.40,222.71 L1065.15,222.61 L1065.89,222.52 L1066.64,222.42 L1067.39,222.32 L1068.14,222.21 L1068.89,222.11 L1069.63,222.01 L1070.38,221.90 L1071.13,221.79 L1071.88,221.69 L1072.62,221.58 L1073.37,221.46 L1074.12,221.35 L1074.87,221.24 L1075.62,221.12 L1076.36,221.00 L1077.11,220.88 L1077.86,220.76 L1078.61,220.64 L1079.35,220.51 L1080.10,220.39 L1080.85,220.26 L1081.60,220.13 L1082.35,220.00 L1083.09,219.86 L1083.84,219.73 L1084.59,219.59 L1085.34,219.45 L1086.08,219.31 L1086.83,219.16 L1087.58,219.02 L1088.33,218.87 L1089.08,218.71 L1089.82,218.56 L1090.57,218.40 L1091.32,218.25 L1092.07,218.08 L1092.81,217.92 L1093.56,217.75 L1094.31,217.58 L1095.06,217.41 L1095.80,217.23 L1096.55,217.06 L1097.30,216.87 L1098.05,216.69 L1098.80,216.50 L1099.54,216.31 L1100.29,216.11 L1101.04,215.92 L1101.79,215.71 L1102.53,215.51 L1103.28,215.30 L1104.03,215.08 L1104.78,214.87 L1105.53,214.64 L1106.27,214.42 L1107.02,214.19 L1107.77,213.95 L1108.52,213.71 L1109.26,213.47 L1110.01,213.22 L1110.76,212.96 L1111.51,212.70 L1112.26,212.44 L1113.00,212.17 L1113.75,211.89 L1114.50,211.61 L1115.25,211.32 L1115.99,211.02 L1116.74,210.72 L1117.49,210.41 L1118.24,210.09 L1118.98,209.77 L1119.73,209.44 L1120.48,209.10 L1121.23,208.75 L1121.98,208.40 L1122.72,208.03 L1123.47,207.66 L1124.22,207.27 L1124.97,206.88 L1125.71,206.48 L1126.46,206.06 L1127.21,205.64 L1127.96,205.20 L1128.71,204.75 L1129.45,204.29 L1130.20,203.82 L1130.95,203.33 L1131.70,202.83 L1132.44,202.32 L1133.19,201.79 L1133.94,201.24 L1134.69,200.68 L1135.44,200.09 L1136.18,199.49 L1136.93,198.88 L1137.68,198.24 L1138.43,197.58 L1139.17,196.89 L1139.92,196.19 L1140.67,195.46 L1141.42,194.70 L1142.17,193.91 L1142.91,193.10 L1143.66,192.26 L1144.41,191.38 L1145.16,190.47 L1145.90,189.53 L1146.65,188.54 L1147.40,187.52 L1148.15,186.45 L1148.89,185.33 L1149.64,184.17 L1150.39,182.95 L1151.14,181.68 L1151.89,180.35 L1152.63,178.96 L1153.38,177.49 L1154.13,175.96 L1154.88,174.34 L1155.62,172.65 L1156.37,170.86 L1157.12,168.97 L1157.87,166.98 L1158.62,164.89 L1159.36,162.67 L1160.11,160.33 L1160.86,157.87 L1161.61,155.29 L1162.35,152.59 L1163.10,149.79 L1163.85,146.93 L1164.60,144.03 L1165.35,141.15 L1166.09,138.32 L1166.84,135.58 L1167.59,132.95 L1168.34,130.44 L1169.08,128.05 L1169.83,125.79 L1170.58,123.64 L1171.33,121.61 L1172.08,119.68 L1172.82,117.86 L1173.57,116.12 L1174.32,114.48 L1175.07,112.91 L1175.81,111.42 L1176.56,110.00 L1177.31,108.64 L1178.06,107.35 L1178.81,106.11 L1179.55,104.93 L1180.30,103.79 L1181.05,102.71 L1181.80,101.66 L1182.54,100.66 L1183.29,99.70 L1184.04,98.78 L1184.79,97.89 L1185.53,97.03 L1186.28,96.21 L1187.03,95.41 L1187.78,94.64 L1188.53,93.90 L1189.27,93.19 L1190.02,92.49 L1190.77,91.83 L1191.52,91.18 L1192.26,90.55 L1193.01,89.94 L1193.76,89.35 L1194.51,88.78 L1195.26,88.23 L1196.00,87.69 L1196.75,87.17 L1197.50,86.66 L1198.25,86.17 L1198.99,85.69 L1199.74,85.23 L1200.49,84.77 L1201.24,84.33 L1201.99,83.90 L1202.73,83.49 L1203.48,83.08 L1204.23,82.68 L1204.98,82.30 L1205.72,81.92 L1206.47,81.55 L1207.22,81.19 L1207.97,80.84 L1208.72,80.50 L1209.46,80.16 L1210.21,79.84 L1210.96,79.52 L1211.71,79.20 L1212.45,78.90 L1213.20,78.60 L1213.95,78.31 L1214.70,78.02 L1215.44,77.74 L1216.19,77.47 L1216.94,77.20 L1217.69,76.94 L1218.44,76.68 L1219.18,76.43 L1219.93,76.18 L1220.68,75.94 L1221.43,75.71 L1222.17,75.47 L1222.92,75.25 L1223.67,75.02 L1224.42,74.80 L1225.17,74.59 L1225.91,74.38 L1226.66,74.17 L1227.41,73.96 L1228.16,73.76 L1228.90,73.57 L1229.65,73.37 L1230.40,73.19 L1231.15,73.00 L1231.90,72.82 L1232.64,72.64 L1233.39,72.46 L1234.14,72.29 L1234.89,72.11 L1235.63,71.95 L1236.38,71.78 L1237.13,71.62 L1237.88,71.46 L1238.62,71.30 L1239.37,71.15 L1240.12,70.99 L1240.87,70.84 L1241.62,70.70 L1242.36,70.55 L1243.11,70.41 L1243.86,70.27 L1244.61,70.13 L1245.35,69.99 L1246.10,69.86 L1246.85,69.72 L1247.60,69.59 L1248.35,69.46 L1249.09,69.34 L1249.84,69.21 L1250.59,69.09 L1251.34,68.96 L1252.08,68.84 L1252.83,68.73 L1253.58,68.61 L1254.33,68.49 L1255.08,68.38 L1255.82,68.27 L1256.57,68.16 L1257.32,68.05 L1258.07,67.94 L1258.81,67.83 L1259.56,67.73 L1260.31,67.63 L1261.06,67.52 L1261.81,67.42 L1262.55,67.32 L1263.30,67.23 L1264.05,67.13 L1264.80,67.03 L1265.54,66.94 L1266.29,66.84 L1267.04,66.75 L1267.79,66.66 L1268.54,66.57 L1269.28,66.48 L1270.03,66.39 L1270.78,66.31 L1271.53,66.22 L1272.27,66.14 L1273.02,66.05 L1273.77,65.97 L1274.52,65.89 L1275.26,65.81 L1276.01,65.73 L1276.76,65.65 L1277.51,65.57 L1278.26,65.49 L1279.00,65.42 L1279.75,65.34 L1280.50,65.27 L1281.25,65.19 L1281.99,65.12 L1282.74,65.05 L1283.49,64.97 L1284.24,64.90 L1284.99,64.83 L1285.73,64.76 L1286.48,64.70 L1287.23,64.63 L1287.98,64.56 L1288.72,64.49 L1289.47,64.43 L1290.22,64.36 L1290.97,64.30 L1291.72,64.24 L1292.46,64.17 L1293.21,64.11 L1293.96,64.05 L1294.71,63.99 L1295.45,63.93 L1296.20,63.87 L1296.95,63.81 L1297.70,63.75 L1298.45,63.69 L1299.19,63.63 L1299.94,63.57 L1300.69,63.52 L1301.44,63.46 L1302.18,63.41 L1302.93,63.35 L1303.68,63.30 L1304.43,63.24 L1305.17,63.19 L1305.92,63.14 L1306.67,63.08 L1307.42,63.03 L1308.17,62.98 L1308.91,62.93 L1309.66,62.88 L1310.41,62.83 L1311.16,62.78 L1311.90,62.73 L1312.65,62.68 L1313.40,62.63" fill="none" stroke="#f39a3a" stroke-width="2.2" stroke-linejoin="round" stroke-linecap="round" clip-path="url(#cpb)"/>
<line x1="1014.30" y1="144.90" x2="1313.40" y2="144.90" stroke="#000" stroke-width="2" />
<line x1="1163.85" y1="24.80" x2="1163.85" y2="265.00" stroke="#000" stroke-width="2" />
<rect x="1014.3" y="24.8" width="299.10" height="240.20" fill="none" stroke="#000" stroke-width="2"/>
<line x1="1009.80" y1="265.00" x2="1014.30" y2="265.00" stroke="#000" stroke-width="2" />
<line x1="1009.80" y1="204.95" x2="1014.30" y2="204.95" stroke="#000" stroke-width="2" />
<line x1="1009.80" y1="144.90" x2="1014.30" y2="144.90" stroke="#000" stroke-width="2" />
<line x1="1009.80" y1="84.85" x2="1014.30" y2="84.85" stroke="#000" stroke-width="2" />
<line x1="1009.80" y1="24.80" x2="1014.30" y2="24.80" stroke="#000" stroke-width="2" />
<line x1="1011.80" y1="234.97" x2="1014.30" y2="234.97" stroke="#000" stroke-width="2" />
<line x1="1011.80" y1="174.93" x2="1014.30" y2="174.93" stroke="#000" stroke-width="2" />
<line x1="1011.80" y1="114.88" x2="1014.30" y2="114.88" stroke="#000" stroke-width="2" />
<line x1="1011.80" y1="54.83" x2="1014.30" y2="54.83" stroke="#000" stroke-width="2" />
<line x1="1014.30" y1="265.00" x2="1014.30" y2="270.00" stroke="#000" stroke-width="2" />
<line x1="1089.08" y1="265.00" x2="1089.08" y2="270.00" stroke="#000" stroke-width="2" />
<line x1="1163.85" y1="265.00" x2="1163.85" y2="270.00" stroke="#000" stroke-width="2" />
<line x1="1238.62" y1="265.00" x2="1238.62" y2="270.00" stroke="#000" stroke-width="2" />
<line x1="1313.40" y1="265.00" x2="1313.40" y2="270.00" stroke="#000" stroke-width="2" />
<line x1="1051.69" y1="265.00" x2="1051.69" y2="268.00" stroke="#000" stroke-width="2" />
<line x1="1126.46" y1="265.00" x2="1126.46" y2="268.00" stroke="#000" stroke-width="2" />
<line x1="1201.24" y1="265.00" x2="1201.24" y2="268.00" stroke="#000" stroke-width="2" />
<line x1="1276.01" y1="265.00" x2="1276.01" y2="268.00" stroke="#000" stroke-width="2" />
<text x="1006.9" y="271.6" font-size="20.5" fill="#000" font-weight="bold" font-style="normal" text-anchor="end" >-20</text>
<text x="1006.9" y="211.5" font-size="20.5" fill="#000" font-weight="bold" font-style="normal" text-anchor="end" >-10</text>
<text x="1006.9" y="151.5" font-size="20.5" fill="#000" font-weight="bold" font-style="normal" text-anchor="end" >0</text>
<text x="1006.9" y="91.5" font-size="20.5" fill="#000" font-weight="bold" font-style="normal" text-anchor="end" >10</text>
<text x="1006.9" y="31.4" font-size="20.5" fill="#000" font-weight="bold" font-style="normal" text-anchor="end" >20</text>
<text x="1014.3" y="289.6" font-size="21" fill="#000" font-weight="bold" font-style="normal" text-anchor="middle" >-10000</text>
<text x="1089.1" y="289.6" font-size="21" fill="#000" font-weight="bold" font-style="normal" text-anchor="middle" >-5000</text>
<text x="1163.8" y="289.6" font-size="21" fill="#000" font-weight="bold" font-style="normal" text-anchor="middle" >0</text>
<text x="1238.6" y="289.6" font-size="21" fill="#000" font-weight="bold" font-style="normal" text-anchor="middle" >5000</text>
<text x="1313.4" y="289.6" font-size="21" fill="#000" font-weight="bold" font-style="normal" text-anchor="middle" >10000</text>
<text x="1074.4" y="310.4" font-size="20.5" fill="#000" font-weight="bold" font-style="normal" text-anchor="start" textLength="181.0" lengthAdjust="spacingAndGlyphs" >Magnetic Fields (Oe)</text>
<text transform="translate(981.5,139.5) rotate(-90)" x="0" y="0" font-size="20" font-weight="bold" text-anchor="middle" textLength="196.0" lengthAdjust="spacingAndGlyphs">Magnetization (emu/g)</text>
<line x1="1024.40" y1="42.30" x2="1055.80" y2="42.30" stroke="#6420c4" stroke-width="1.8" />
<line x1="1024.40" y1="60.50" x2="1055.80" y2="60.50" stroke="#f39a3a" stroke-width="2" />
<text x="1062.8" y="47.9" font-size="14.8" fill="#000" font-weight="bold" font-style="normal" text-anchor="start" textLength="74.7" lengthAdjust="spacingAndGlyphs" >NFO@BFO</text>
<text x="1062.8" y="66.5" font-size="14.8" fill="#000" font-weight="bold" font-style="normal" text-anchor="start" >NFO/BFO</text>
<text x="1329.0" y="39.9" font-size="54.5" fill="#000" font-weight="bold" font-style="normal" text-anchor="start" >c</text>
<clipPath id="cpc"><rect x="1413.7" y="19.4" width="309.0999999999999" height="250.20000000000002"/></clipPath>
<line x1="1413.70" y1="144.50" x2="1722.80" y2="144.50" stroke="#666" stroke-width="1.8" />
<line x1="1568.25" y1="19.40" x2="1568.25" y2="269.60" stroke="#000" stroke-width="1.6" />
<path d="M1413.70,163.27 L1722.80,-7.70" fill="none" stroke="#5a18b4" stroke-width="2.6" stroke-linejoin="round" stroke-linecap="round" clip-path="url(#cpc)"/>
<path d="M1413.70,270.12 L1722.80,102.28" fill="none" stroke="#5a18b4" stroke-width="2.6" stroke-linejoin="round" stroke-linecap="round" clip-path="url(#cpc)"/>
<path d="M1413.70,197.67 L1722.80,48.80" fill="none" stroke="#f39a3a" stroke-width="2.6" stroke-linejoin="round" stroke-linecap="round" clip-path="url(#cpc)"/>
<path d="M1413.70,240.10 L1722.80,91.44" fill="none" stroke="#f39a3a" stroke-width="2.6" stroke-linejoin="round" stroke-linecap="round" clip-path="url(#cpc)"/>
<rect x="1413.7" y="19.4" width="309.10" height="250.20" fill="none" stroke="#000" stroke-width="2"/>
<line x1="1409.20" y1="248.75" x2="1413.70" y2="248.75" stroke="#000" stroke-width="2" />
<line x1="1409.20" y1="144.50" x2="1413.70" y2="144.50" stroke="#000" stroke-width="2" />
<line x1="1409.20" y1="40.25" x2="1413.70" y2="40.25" stroke="#000" stroke-width="2" />
<line x1="1411.20" y1="196.62" x2="1413.70" y2="196.62" stroke="#000" stroke-width="2" />
<line x1="1411.20" y1="92.38" x2="1413.70" y2="92.38" stroke="#000" stroke-width="2" />
<line x1="1444.61" y1="269.60" x2="1444.61" y2="274.60" stroke="#000" stroke-width="2" />
<line x1="1506.43" y1="269.60" x2="1506.43" y2="274.60" stroke="#000" stroke-width="2" />
<line x1="1568.25" y1="269.60" x2="1568.25" y2="274.60" stroke="#000" stroke-width="2" />
<line x1="1630.07" y1="269.60" x2="1630.07" y2="274.60" stroke="#000" stroke-width="2" />
<line x1="1691.89" y1="269.60" x2="1691.89" y2="274.60" stroke="#000" stroke-width="2" />
<line x1="1413.70" y1="269.60" x2="1413.70" y2="272.60" stroke="#000" stroke-width="2" />
<line x1="1475.52" y1="269.60" x2="1475.52" y2="272.60" stroke="#000" stroke-width="2" />
<line x1="1537.34" y1="269.60" x2="1537.34" y2="272.60" stroke="#000" stroke-width="2" />
<line x1="1599.16" y1="269.60" x2="1599.16" y2="272.60" stroke="#000" stroke-width="2" />
<line x1="1660.98" y1="269.60" x2="1660.98" y2="272.60" stroke="#000" stroke-width="2" />
<line x1="1722.80" y1="269.60" x2="1722.80" y2="272.60" stroke="#000" stroke-width="2" />
<text x="1405.6" y="255.4" font-size="20.5" fill="#000" font-weight="bold" font-style="normal" text-anchor="end" >-2.5</text>
<text x="1405.6" y="151.1" font-size="20.5" fill="#000" font-weight="bold" font-style="normal" text-anchor="end" >0.0</text>
<text x="1405.6" y="46.9" font-size="20.5" fill="#000" font-weight="bold" font-style="normal" text-anchor="end" >2.5</text>
<text x="1444.6" y="295.5" font-size="21" fill="#000" font-weight="bold" font-style="normal" text-anchor="middle" >-200</text>
<text x="1506.4" y="295.5" font-size="21" fill="#000" font-weight="bold" font-style="normal" text-anchor="middle" >-100</text>
<text x="1568.2" y="295.5" font-size="21" fill="#000" font-weight="bold" font-style="normal" text-anchor="middle" >0</text>
<text x="1630.1" y="295.5" font-size="21" fill="#000" font-weight="bold" font-style="normal" text-anchor="middle" >100</text>
<text x="1691.9" y="295.5" font-size="21" fill="#000" font-weight="bold" font-style="normal" text-anchor="middle" >200</text>
<text x="1476.0" y="312.7" font-size="20.5" fill="#000" font-weight="bold" font-style="normal" text-anchor="start" textLength="187.0" lengthAdjust="spacingAndGlyphs" >Magnetic Fields (Oe)</text>
<text transform="translate(1368.3,139.5) rotate(-90)" x="0" y="0" font-size="20.5" font-weight="bold" text-anchor="middle" textLength="203.0" lengthAdjust="spacingAndGlyphs">Magnetization (emu/g)</text>
<line x1="1424.00" y1="39.20" x2="1459.00" y2="39.20" stroke="#5a18b4" stroke-width="2.4" />
<line x1="1424.00" y1="59.80" x2="1459.00" y2="59.80" stroke="#f39a3a" stroke-width="2.4" />
<text x="1466.1" y="43.8" font-size="16.3" fill="#000" font-weight="bold" font-style="normal" text-anchor="start" textLength="83.0" lengthAdjust="spacingAndGlyphs" >NFO@BFO</text>
<text x="1466.1" y="64.7" font-size="16.3" fill="#000" font-weight="bold" font-style="normal" text-anchor="start" >NFO/BFO</text>
<line x1="1447.10" y1="126.20" x2="1447.10" y2="135.30" stroke="#5a18b4" stroke-width="2.6" />
<polygon points="1442.6,130.3 1447.1,134.3 1451.6,130.3 1447.1,143.3" fill="#5a18b4"/>
<line x1="1523.80" y1="126.20" x2="1523.80" y2="135.30" stroke="#f39a3a" stroke-width="2.6" />
<polygon points="1519.3,130.3 1523.8,134.3 1528.3,130.3 1523.8,143.3" fill="#f39a3a"/>
<line x1="1612.50" y1="161.10" x2="1612.50" y2="152.60" stroke="#f39a3a" stroke-width="2.6" />
<polygon points="1608.0,157.6 1612.5,153.6 1617.0,157.6 1612.5,144.6" fill="#f39a3a"/>
<line x1="1643.40" y1="161.10" x2="1643.40" y2="152.60" stroke="#5a18b4" stroke-width="2.6" />
<polygon points="1638.9,157.6 1643.4,153.6 1647.9,157.6 1643.4,144.6" fill="#5a18b4"/>
<text x="1578" y="215" font-size="21" font-weight="bold" font-style="italic" fill="#5a1a9e" textLength="133.5" lengthAdjust="spacingAndGlyphs">H<tspan font-size="14.5" dy="5">EB</tspan><tspan dy="-5">/H</tspan><tspan font-size="14.5" dy="5">C</tspan><tspan dy="-5">=23.3%</tspan></text>
<text x="1578" y="246" font-size="21" font-weight="bold" font-style="italic" fill="#f0a050" textLength="108" lengthAdjust="spacingAndGlyphs">H<tspan font-size="14.5" dy="5">EB</tspan><tspan dy="-5">/H</tspan><tspan font-size="14.5" dy="5">C</tspan><tspan dy="-5">=0%</tspan></text>
<text x="935.6" y="343.1" font-size="53.6" fill="#000" font-weight="bold" font-style="normal" text-anchor="start" >d</text>
<clipPath id="cpd"><rect x="1019.6" y="345.2" width="296.4" height="238.8"/></clipPath>
<path d="M1019.60,580.50 C1023.00,580.30 1033.27,579.75 1040.00,579.30 C1046.73,578.85 1053.52,578.78 1060.00,577.80 C1066.48,576.82 1072.60,575.18 1078.90,573.40 C1085.20,571.62 1092.55,569.42 1097.80,567.10 C1103.05,564.78 1106.20,562.65 1110.40,559.50 C1114.60,556.35 1119.22,552.60 1123.00,548.20 C1126.78,543.80 1130.15,538.78 1133.10,533.10 C1136.05,527.42 1138.38,520.42 1140.70,514.10 C1143.02,507.78 1145.25,502.22 1147.00,495.20 C1148.75,488.18 1150.00,478.92 1151.20,472.00 C1152.40,465.08 1152.83,461.93 1154.20,453.70 C1155.57,445.47 1158.02,431.23 1159.40,422.60 C1160.78,413.97 1161.18,407.60 1162.50,401.90 C1163.82,396.20 1165.73,388.40 1167.30,388.40 C1168.87,388.40 1170.62,396.20 1171.90,401.90 C1173.18,407.60 1173.73,413.97 1175.00,422.60 C1176.27,431.23 1178.30,445.47 1179.50,453.70 C1180.70,461.93 1181.10,465.08 1182.20,472.00 C1183.30,478.92 1184.40,488.18 1186.10,495.20 C1187.80,502.22 1189.88,508.00 1192.40,514.10 C1194.92,520.20 1198.05,526.75 1201.20,531.80 C1204.35,536.85 1207.52,540.40 1211.30,544.40 C1215.08,548.40 1218.65,552.02 1223.90,555.80 C1229.15,559.58 1236.48,564.17 1242.80,567.10 C1249.12,570.03 1255.60,571.72 1261.80,573.40 C1268.00,575.08 1273.63,576.30 1280.00,577.20 C1286.37,578.10 1294.00,578.37 1300.00,578.80 C1306.00,579.23 1313.33,579.63 1316.00,579.80" fill="none" stroke="#f39a3a" stroke-width="2.1" clip-path="url(#cpd)"/>
<path d="M1019.60,578.00 C1023.00,577.70 1033.27,576.87 1040.00,576.20 C1046.73,575.53 1053.52,575.10 1060.00,574.00 C1066.48,572.90 1072.60,571.58 1078.90,569.60 C1085.20,567.62 1092.55,564.83 1097.80,562.10 C1103.05,559.37 1106.20,556.98 1110.40,553.20 C1114.60,549.42 1119.42,544.43 1123.00,539.40 C1126.58,534.37 1129.37,528.68 1131.90,523.00 C1134.43,517.32 1136.32,510.98 1138.20,505.30 C1140.08,499.62 1141.73,494.78 1143.20,488.90 C1144.67,483.02 1145.68,477.58 1147.00,470.00 C1148.32,462.42 1149.55,453.03 1151.10,443.40 C1152.65,433.77 1155.08,420.85 1156.30,412.20 C1157.52,403.55 1157.53,397.72 1158.40,391.50 C1159.27,385.28 1160.22,379.40 1161.50,374.90 C1162.78,370.40 1164.55,364.50 1166.10,364.50 C1167.65,364.50 1169.67,370.40 1170.80,374.90 C1171.93,379.40 1172.10,385.28 1172.90,391.50 C1173.70,397.72 1174.32,403.55 1175.60,412.20 C1176.88,420.85 1179.17,433.77 1180.60,443.40 C1182.03,453.03 1182.87,462.42 1184.20,470.00 C1185.53,477.58 1186.82,482.60 1188.60,488.90 C1190.38,495.20 1192.58,501.92 1194.90,507.80 C1197.22,513.68 1199.77,519.15 1202.50,524.20 C1205.23,529.25 1207.73,533.68 1211.30,538.10 C1214.87,542.52 1219.70,547.02 1223.90,550.70 C1228.10,554.38 1231.23,557.15 1236.50,560.20 C1241.77,563.25 1248.25,566.48 1255.50,569.00 C1262.75,571.52 1272.58,573.88 1280.00,575.30 C1287.42,576.72 1294.00,576.88 1300.00,577.50 C1306.00,578.12 1313.33,578.75 1316.00,579.00" fill="none" stroke="#4a14a0" stroke-width="2.1" clip-path="url(#cpd)"/>
<rect x="1019.6" y="345.2" width="296.40" height="238.80" fill="none" stroke="#000" stroke-width="2"/>
<line x1="1015.10" y1="584.00" x2="1019.60" y2="584.00" stroke="#000" stroke-width="2" />
<line x1="1015.10" y1="504.40" x2="1019.60" y2="504.40" stroke="#000" stroke-width="2" />
<line x1="1015.10" y1="424.80" x2="1019.60" y2="424.80" stroke="#000" stroke-width="2" />
<line x1="1015.10" y1="345.20" x2="1019.60" y2="345.20" stroke="#000" stroke-width="2" />
<line x1="1017.10" y1="544.20" x2="1019.60" y2="544.20" stroke="#000" stroke-width="2" />
<line x1="1017.10" y1="464.60" x2="1019.60" y2="464.60" stroke="#000" stroke-width="2" />
<line x1="1017.10" y1="385.00" x2="1019.60" y2="385.00" stroke="#000" stroke-width="2" />
<line x1="1019.60" y1="584.00" x2="1019.60" y2="589.00" stroke="#000" stroke-width="2" />
<line x1="1093.70" y1="584.00" x2="1093.70" y2="589.00" stroke="#000" stroke-width="2" />
<line x1="1167.80" y1="584.00" x2="1167.80" y2="589.00" stroke="#000" stroke-width="2" />
<line x1="1241.90" y1="584.00" x2="1241.90" y2="589.00" stroke="#000" stroke-width="2" />
<line x1="1316.00" y1="584.00" x2="1316.00" y2="589.00" stroke="#000" stroke-width="2" />
<line x1="1056.65" y1="584.00" x2="1056.65" y2="587.00" stroke="#000" stroke-width="2" />
<line x1="1130.75" y1="584.00" x2="1130.75" y2="587.00" stroke="#000" stroke-width="2" />
<line x1="1204.85" y1="584.00" x2="1204.85" y2="587.00" stroke="#000" stroke-width="2" />
<line x1="1278.95" y1="584.00" x2="1278.95" y2="587.00" stroke="#000" stroke-width="2" />
<text x="1013.0" y="590.6" font-size="20.5" fill="#000" font-weight="bold" font-style="normal" text-anchor="end" >0.000</text>
<text x="1013.0" y="511.0" font-size="20.5" fill="#000" font-weight="bold" font-style="normal" text-anchor="end" >0.003</text>
<text x="1013.0" y="431.4" font-size="20.5" fill="#000" font-weight="bold" font-style="normal" text-anchor="end" >0.006</text>
<text x="1013.0" y="351.8" font-size="20.5" fill="#000" font-weight="bold" font-style="normal" text-anchor="end" >0.009</text>
<text x="1019.6" y="608.7" font-size="21" fill="#000" font-weight="bold" font-style="normal" text-anchor="middle" >-10000</text>
<text x="1093.7" y="608.7" font-size="21" fill="#000" font-weight="bold" font-style="normal" text-anchor="middle" >-5000</text>
<text x="1167.8" y="608.7" font-size="21" fill="#000" font-weight="bold" font-style="normal" text-anchor="middle" >0</text>
<text x="1241.9" y="608.7" font-size="21" fill="#000" font-weight="bold" font-style="normal" text-anchor="middle" >5000</text>
<text x="1316.0" y="608.7" font-size="21" fill="#000" font-weight="bold" font-style="normal" text-anchor="middle" >10000</text>
<text x="1078.5" y="631.7" font-size="20.5" fill="#000" font-weight="bold" font-style="normal" text-anchor="start" textLength="180.0" lengthAdjust="spacingAndGlyphs" >Magnetic Fields (Oe)</text>
<text transform="translate(959.0,466.7) rotate(-90)" x="0" y="0" font-size="20" font-weight="bold" text-anchor="middle" textLength="164.0" lengthAdjust="spacingAndGlyphs">dM/dH (emu/g·Oe)</text>
<line x1="1023.00" y1="358.20" x2="1058.40" y2="358.20" stroke="#6420c4" stroke-width="2" />
<line x1="1023.00" y1="380.50" x2="1058.40" y2="380.50" stroke="#f39a3a" stroke-width="2" />
<text x="1066.0" y="365.3" font-size="16.6" fill="#000" font-weight="bold" font-style="normal" text-anchor="start" textLength="84.7" lengthAdjust="spacingAndGlyphs" >NFO@BFO</text>
<text x="1066.0" y="386.5" font-size="16.6" fill="#000" font-weight="bold" font-style="normal" text-anchor="start" >NFO/BFO</text>
<text x="1328.4" y="345.2" font-size="55.5" fill="#000" font-weight="bold" font-style="normal" text-anchor="start" >e</text>
<path d="M1416.90,381.29 L1715.29,435.17" fill="none" stroke="#5c1aa0" stroke-width="2" stroke-linejoin="round" stroke-linecap="round" />
<path d="M1416.90,535.27 L1715.29,571.49" fill="none" stroke="#f39a3a" stroke-width="2" stroke-linejoin="round" stroke-linecap="round" />
<polygon points="1600.4,418.1 1607.4,418.1 1603.9,411.6" fill="#5c1aa0"/>
<rect x="1600.9" y="555.0" width="6" height="6" fill="#f39a3a"/>
<polygon points="1608.5,419.5 1615.5,419.5 1612.0,413.0" fill="#5c1aa0"/>
<rect x="1609.0" y="556.0" width="6" height="6" fill="#f39a3a"/>
<polygon points="1616.5,421.0 1623.5,421.0 1620.0,414.5" fill="#5c1aa0"/>
<rect x="1617.0" y="556.9" width="6" height="6" fill="#f39a3a"/>
<polygon points="1626.1,422.7 1633.1,422.7 1629.6,416.2" fill="#5c1aa0"/>
<rect x="1626.6" y="558.1" width="6" height="6" fill="#f39a3a"/>
<polygon points="1636.7,424.6 1643.7,424.6 1640.2,418.1" fill="#5c1aa0"/>
<rect x="1637.2" y="559.4" width="6" height="6" fill="#f39a3a"/>
<polygon points="1647.3,426.5 1654.3,426.5 1650.8,420.0" fill="#5c1aa0"/>
<rect x="1647.8" y="560.7" width="6" height="6" fill="#f39a3a"/>
<polygon points="1659.7,428.8 1666.7,428.8 1663.2,422.3" fill="#5c1aa0"/>
<rect x="1660.2" y="562.2" width="6" height="6" fill="#f39a3a"/>
<polygon points="1672.0,431.0 1679.0,431.0 1675.5,424.5" fill="#5c1aa0"/>
<rect x="1672.5" y="563.7" width="6" height="6" fill="#f39a3a"/>
<polygon points="1686.1,433.5 1693.1,433.5 1689.6,427.0" fill="#5c1aa0"/>
<rect x="1686.6" y="565.4" width="6" height="6" fill="#f39a3a"/>
<polygon points="1700.2,436.1 1707.2,436.1 1703.7,429.6" fill="#5c1aa0"/>
<rect x="1700.7" y="567.1" width="6" height="6" fill="#f39a3a"/>
<polygon points="1710.8,438.0 1717.8,438.0 1714.3,431.5" fill="#5c1aa0"/>
<rect x="1711.3" y="568.4" width="6" height="6" fill="#f39a3a"/>
<rect x="1416.9" y="345.2" width="298.50" height="240.60" fill="none" stroke="#000" stroke-width="2"/>
<line x1="1412.40" y1="585.80" x2="1416.90" y2="585.80" stroke="#000" stroke-width="2" />
<line x1="1412.40" y1="545.70" x2="1416.90" y2="545.70" stroke="#000" stroke-width="2" />
<line x1="1412.40" y1="505.60" x2="1416.90" y2="505.60" stroke="#000" stroke-width="2" />
<line x1="1412.40" y1="465.50" x2="1416.90" y2="465.50" stroke="#000" stroke-width="2" />
<line x1="1412.40" y1="425.40" x2="1416.90" y2="425.40" stroke="#000" stroke-width="2" />
<line x1="1412.40" y1="385.30" x2="1416.90" y2="385.30" stroke="#000" stroke-width="2" />
<line x1="1412.40" y1="345.20" x2="1416.90" y2="345.20" stroke="#000" stroke-width="2" />
<line x1="1414.40" y1="565.75" x2="1416.90" y2="565.75" stroke="#000" stroke-width="2" />
<line x1="1414.40" y1="525.65" x2="1416.90" y2="525.65" stroke="#000" stroke-width="2" />
<line x1="1414.40" y1="485.55" x2="1416.90" y2="485.55" stroke="#000" stroke-width="2" />
<line x1="1414.40" y1="445.45" x2="1416.90" y2="445.45" stroke="#000" stroke-width="2" />
<line x1="1414.40" y1="405.35" x2="1416.90" y2="405.35" stroke="#000" stroke-width="2" />
<line x1="1414.40" y1="365.25" x2="1416.90" y2="365.25" stroke="#000" stroke-width="2" />
<line x1="1416.90" y1="585.80" x2="1416.90" y2="590.80" stroke="#000" stroke-width="2" />
<line x1="1510.73" y1="585.80" x2="1510.73" y2="590.80" stroke="#000" stroke-width="2" />
<line x1="1604.57" y1="585.80" x2="1604.57" y2="590.80" stroke="#000" stroke-width="2" />
<line x1="1698.40" y1="585.80" x2="1698.40" y2="590.80" stroke="#000" stroke-width="2" />
<line x1="1463.82" y1="585.80" x2="1463.82" y2="588.80" stroke="#000" stroke-width="2" />
<line x1="1557.65" y1="585.80" x2="1557.65" y2="588.80" stroke="#000" stroke-width="2" />
<line x1="1651.48" y1="585.80" x2="1651.48" y2="588.80" stroke="#000" stroke-width="2" />
<text x="1409.2" y="592.4" font-size="20.5" fill="#000" font-weight="bold" font-style="normal" text-anchor="end" >13</text>
<text x="1409.2" y="552.3" font-size="20.5" fill="#000" font-weight="bold" font-style="normal" text-anchor="end" >14</text>
<text x="1409.2" y="512.2" font-size="20.5" fill="#000" font-weight="bold" font-style="normal" text-anchor="end" >15</text>
<text x="1409.2" y="472.1" font-size="20.5" fill="#000" font-weight="bold" font-style="normal" text-anchor="end" >16</text>
<text x="1409.2" y="432.0" font-size="20.5" fill="#000" font-weight="bold" font-style="normal" text-anchor="end" >17</text>
<text x="1409.2" y="391.9" font-size="20.5" fill="#000" font-weight="bold" font-style="normal" text-anchor="end" >18</text>
<text x="1409.2" y="351.8" font-size="20.5" fill="#000" font-weight="bold" font-style="normal" text-anchor="end" >19</text>
<text x="1416.9" y="608.7" font-size="20.5" fill="#000" font-weight="bold" font-style="normal" text-anchor="middle" textLength="75.8" lengthAdjust="spacingAndGlyphs" >0.00E+00</text>
<text x="1510.7" y="608.7" font-size="20.5" fill="#000" font-weight="bold" font-style="normal" text-anchor="middle" textLength="75.8" lengthAdjust="spacingAndGlyphs" >5.00E-09</text>
<text x="1604.6" y="608.7" font-size="20.5" fill="#000" font-weight="bold" font-style="normal" text-anchor="middle" textLength="75.8" lengthAdjust="spacingAndGlyphs" >1.00E-08</text>
<text x="1698.4" y="608.7" font-size="20.5" fill="#000" font-weight="bold" font-style="normal" text-anchor="middle" textLength="75.8" lengthAdjust="spacingAndGlyphs" >1.50E-08</text>
<text x="1513.2" y="633.4" font-size="20" font-weight="bold">1/H<tspan font-size="12" dy="-9">2</tspan><tspan dy="9">(Oe</tspan><tspan font-size="12" dy="-9">-2</tspan><tspan dy="9">)</tspan></text>
<text transform="translate(1375.0,474.7) rotate(-90)" x="0" y="0" font-size="20" font-weight="bold" text-anchor="middle" textLength="197.6" lengthAdjust="spacingAndGlyphs">Magnetization (emu/g)</text>
<line x1="1560.80" y1="365.30" x2="1603.20" y2="365.30" stroke="#5c1aa0" stroke-width="2" />
<line x1="1560.80" y1="387.50" x2="1603.20" y2="387.50" stroke="#f39a3a" stroke-width="2" />
<text x="1608.5" y="370.6" font-size="18.3" fill="#000" font-weight="bold" font-style="normal" text-anchor="start" textLength="93.5" lengthAdjust="spacingAndGlyphs" >NFO@BFO</text>
<text x="1608.5" y="394.6" font-size="18.3" fill="#000" font-weight="bold" font-style="normal" text-anchor="start" >NFO/BFO</text>
<text x="1430.3" y="425.3" font-size="17.5" fill="#5c1aa0" font-weight="bold" font-style="italic" text-anchor="start" textLength="120.7" lengthAdjust="spacingAndGlyphs" >Ms=18.10emu/g</text>
<text x="1430.3" y="448.2" font-size="17.5" fill="#5c1aa0" font-weight="bold" font-style="italic" text-anchor="start" textLength="50.0" lengthAdjust="spacingAndGlyphs" >b=8.52</text>
<text x="1569.6" y="520.5" font-size="17.5" fill="#f39a3a" font-weight="bold" font-style="italic" text-anchor="start" textLength="118.3" lengthAdjust="spacingAndGlyphs" >Ms=14.26emu/g</text>
<text x="1569.6" y="543.5" font-size="17.5" fill="#f39a3a" font-weight="bold" font-style="italic" text-anchor="start" textLength="49.4" lengthAdjust="spacingAndGlyphs" >b=5.68</text>
<rect x="1019.60" y="649.4" width="37.48" height="254.30" fill="#fcd4f8"/>
<rect x="1057.08" y="649.4" width="74.95" height="254.30" fill="#eef8dc"/>
<rect x="1132.03" y="649.4" width="74.95" height="254.30" fill="#d6f7fc"/>
<rect x="1206.98" y="649.4" width="112.42" height="254.30" fill="#fcfad6"/>
<text x="1038.3" y="659.8" font-size="10.5" fill="#000" font-weight="bold" font-style="normal" text-anchor="middle" >S</text>
<text x="1094.5" y="659.8" font-size="10.5" fill="#000" font-weight="bold" font-style="normal" text-anchor="middle" >C</text>
<text x="1169.5" y="659.8" font-size="10.5" fill="#000" font-weight="bold" font-style="normal" text-anchor="middle" >X</text>
<text x="1263.2" y="659.8" font-size="10.5" fill="#000" font-weight="bold" font-style="normal" text-anchor="middle" >Ku</text>
<clipPath id="cpf"><rect x="1019.6" y="662.8" width="299.80000000000007" height="240.9000000000001"/></clipPath>
<path d="M1019.60,754.34 C1022.10,759.16 1029.53,774.90 1034.59,783.25 C1039.65,791.60 1044.90,800.27 1049.95,804.45 C1055.01,808.62 1060.07,808.30 1064.94,808.30 C1069.82,808.30 1074.25,803.97 1079.19,804.45 C1084.12,804.93 1089.49,804.93 1094.55,811.19 C1099.61,817.46 1104.61,831.75 1109.54,842.03 C1114.47,852.31 1119.22,866.44 1124.16,872.86 C1129.09,879.29 1134.09,882.66 1139.15,880.57 C1144.20,878.49 1149.45,868.53 1154.51,860.34 C1159.57,852.15 1164.50,838.82 1169.50,831.43 C1174.50,824.04 1179.56,817.78 1184.49,816.01 C1189.42,814.25 1194.17,816.82 1199.11,820.83 C1204.04,824.85 1209.10,834.32 1214.10,840.10 C1219.09,845.88 1224.15,854.24 1229.09,855.52 C1234.02,856.80 1238.77,855.20 1243.70,847.81 C1248.63,840.42 1253.69,824.20 1258.69,811.19 C1263.69,798.19 1268.75,780.36 1273.68,769.76 C1278.61,759.16 1283.36,750.01 1288.30,747.60 C1293.23,745.19 1298.29,749.85 1303.29,755.31 C1308.28,760.77 1315.78,776.18 1318.28,780.36" fill="none" stroke="#f0a050" stroke-width="2.6" clip-path="url(#cpf)"/>
<circle cx="1019.6" cy="754.3" r="2.4" fill="#fbe2c4" stroke="#f0a050" stroke-width="1.1"/>
<circle cx="1034.6" cy="783.2" r="2.4" fill="#fbe2c4" stroke="#f0a050" stroke-width="1.1"/>
<circle cx="1050.0" cy="804.4" r="2.4" fill="#fbe2c4" stroke="#f0a050" stroke-width="1.1"/>
<circle cx="1064.9" cy="808.3" r="2.4" fill="#fbe2c4" stroke="#f0a050" stroke-width="1.1"/>
<circle cx="1079.2" cy="804.4" r="2.4" fill="#fbe2c4" stroke="#f0a050" stroke-width="1.1"/>
<circle cx="1094.5" cy="811.2" r="2.4" fill="#fbe2c4" stroke="#f0a050" stroke-width="1.1"/>
<circle cx="1109.5" cy="842.0" r="2.4" fill="#fbe2c4" stroke="#f0a050" stroke-width="1.1"/>
<circle cx="1124.2" cy="872.9" r="2.4" fill="#fbe2c4" stroke="#f0a050" stroke-width="1.1"/>
<circle cx="1139.1" cy="880.6" r="2.4" fill="#fbe2c4" stroke="#f0a050" stroke-width="1.1"/>
<circle cx="1154.5" cy="860.3" r="2.4" fill="#fbe2c4" stroke="#f0a050" stroke-width="1.1"/>
<circle cx="1169.5" cy="831.4" r="2.4" fill="#fbe2c4" stroke="#f0a050" stroke-width="1.1"/>
<circle cx="1184.5" cy="816.0" r="2.4" fill="#fbe2c4" stroke="#f0a050" stroke-width="1.1"/>
<circle cx="1199.1" cy="820.8" r="2.4" fill="#fbe2c4" stroke="#f0a050" stroke-width="1.1"/>
<circle cx="1214.1" cy="840.1" r="2.4" fill="#fbe2c4" stroke="#f0a050" stroke-width="1.1"/>
<circle cx="1229.1" cy="855.5" r="2.4" fill="#fbe2c4" stroke="#f0a050" stroke-width="1.1"/>
<circle cx="1243.7" cy="847.8" r="2.4" fill="#fbe2c4" stroke="#f0a050" stroke-width="1.1"/>
<circle cx="1258.7" cy="811.2" r="2.4" fill="#fbe2c4" stroke="#f0a050" stroke-width="1.1"/>
<circle cx="1273.7" cy="769.8" r="2.4" fill="#fbe2c4" stroke="#f0a050" stroke-width="1.1"/>
<circle cx="1288.3" cy="747.6" r="2.4" fill="#fbe2c4" stroke="#f0a050" stroke-width="1.1"/>
<circle cx="1303.3" cy="755.3" r="2.4" fill="#fbe2c4" stroke="#f0a050" stroke-width="1.1"/>
<circle cx="1318.3" cy="780.4" r="2.4" fill="#fbe2c4" stroke="#f0a050" stroke-width="1.1"/>
<path d="M1019.60,685.93 C1022.10,688.34 1029.53,694.76 1034.59,700.38 C1039.65,706.00 1044.90,713.07 1049.95,719.65 C1055.01,726.24 1060.07,734.11 1064.94,739.89 C1069.82,745.67 1074.25,750.97 1079.19,754.34 C1084.12,757.71 1089.49,758.84 1094.55,760.12 C1099.61,761.41 1104.61,761.57 1109.54,762.05 C1114.47,762.53 1119.22,762.53 1124.16,763.01 C1129.09,763.50 1134.09,763.18 1139.15,764.94 C1144.20,766.71 1149.45,769.92 1154.51,773.61 C1159.57,777.31 1164.50,782.93 1169.50,787.10 C1174.50,791.28 1179.56,796.42 1184.49,798.67 C1189.42,800.92 1194.17,801.88 1199.11,800.59 C1204.04,799.31 1209.10,795.46 1214.10,790.96 C1219.09,786.46 1224.15,780.36 1229.09,773.61 C1234.02,766.87 1238.77,758.20 1243.70,750.49 C1248.63,742.78 1253.69,733.95 1258.69,727.36 C1263.69,720.78 1268.75,714.67 1273.68,710.98 C1278.61,707.29 1283.36,705.52 1288.30,705.20 C1293.23,704.88 1298.29,706.97 1303.29,709.05 C1308.28,711.14 1315.78,716.28 1318.28,717.73" fill="none" stroke="#5c1aa0" stroke-width="2.6" clip-path="url(#cpf)"/>
<circle cx="1019.6" cy="685.9" r="2.4" fill="#e4d0f4" stroke="#5c1aa0" stroke-width="1.1"/>
<circle cx="1034.6" cy="700.4" r="2.4" fill="#e4d0f4" stroke="#5c1aa0" stroke-width="1.1"/>
<circle cx="1050.0" cy="719.7" r="2.4" fill="#e4d0f4" stroke="#5c1aa0" stroke-width="1.1"/>
<circle cx="1064.9" cy="739.9" r="2.4" fill="#e4d0f4" stroke="#5c1aa0" stroke-width="1.1"/>
<circle cx="1079.2" cy="754.3" r="2.4" fill="#e4d0f4" stroke="#5c1aa0" stroke-width="1.1"/>
<circle cx="1094.5" cy="760.1" r="2.4" fill="#e4d0f4" stroke="#5c1aa0" stroke-width="1.1"/>
<circle cx="1109.5" cy="762.1" r="2.4" fill="#e4d0f4" stroke="#5c1aa0" stroke-width="1.1"/>
<circle cx="1124.2" cy="763.0" r="2.4" fill="#e4d0f4" stroke="#5c1aa0" stroke-width="1.1"/>
<circle cx="1139.1" cy="764.9" r="2.4" fill="#e4d0f4" stroke="#5c1aa0" stroke-width="1.1"/>
<circle cx="1154.5" cy="773.6" r="2.4" fill="#e4d0f4" stroke="#5c1aa0" stroke-width="1.1"/>
<circle cx="1169.5" cy="787.1" r="2.4" fill="#e4d0f4" stroke="#5c1aa0" stroke-width="1.1"/>
<circle cx="1184.5" cy="798.7" r="2.4" fill="#e4d0f4" stroke="#5c1aa0" stroke-width="1.1"/>
<circle cx="1199.1" cy="800.6" r="2.4" fill="#e4d0f4" stroke="#5c1aa0" stroke-width="1.1"/>
<circle cx="1214.1" cy="791.0" r="2.4" fill="#e4d0f4" stroke="#5c1aa0" stroke-width="1.1"/>
<circle cx="1229.1" cy="773.6" r="2.4" fill="#e4d0f4" stroke="#5c1aa0" stroke-width="1.1"/>
<circle cx="1243.7" cy="750.5" r="2.4" fill="#e4d0f4" stroke="#5c1aa0" stroke-width="1.1"/>
<circle cx="1258.7" cy="727.4" r="2.4" fill="#e4d0f4" stroke="#5c1aa0" stroke-width="1.1"/>
<circle cx="1273.7" cy="711.0" r="2.4" fill="#e4d0f4" stroke="#5c1aa0" stroke-width="1.1"/>
<circle cx="1288.3" cy="705.2" r="2.4" fill="#e4d0f4" stroke="#5c1aa0" stroke-width="1.1"/>
<circle cx="1303.3" cy="709.1" r="2.4" fill="#e4d0f4" stroke="#5c1aa0" stroke-width="1.1"/>
<circle cx="1318.3" cy="717.7" r="2.4" fill="#e4d0f4" stroke="#5c1aa0" stroke-width="1.1"/>
<rect x="1019.6" y="662.8" width="299.80" height="240.90" fill="none" stroke="#000" stroke-width="2"/>
<line x1="1015.10" y1="879.61" x2="1019.60" y2="879.61" stroke="#000" stroke-width="2" />
<line x1="1015.10" y1="831.43" x2="1019.60" y2="831.43" stroke="#000" stroke-width="2" />
<line x1="1015.10" y1="783.25" x2="1019.60" y2="783.25" stroke="#000" stroke-width="2" />
<line x1="1015.10" y1="735.07" x2="1019.60" y2="735.07" stroke="#000" stroke-width="2" />
<line x1="1015.10" y1="686.89" x2="1019.60" y2="686.89" stroke="#000" stroke-width="2" />
<line x1="1017.10" y1="855.52" x2="1019.60" y2="855.52" stroke="#000" stroke-width="2" />
<line x1="1017.10" y1="807.34" x2="1019.60" y2="807.34" stroke="#000" stroke-width="2" />
<line x1="1017.10" y1="759.16" x2="1019.60" y2="759.16" stroke="#000" stroke-width="2" />
<line x1="1017.10" y1="710.98" x2="1019.60" y2="710.98" stroke="#000" stroke-width="2" />
<line x1="1019.60" y1="903.70" x2="1019.60" y2="908.70" stroke="#000" stroke-width="2" />
<line x1="1057.08" y1="903.70" x2="1057.08" y2="908.70" stroke="#000" stroke-width="2" />
<line x1="1094.55" y1="903.70" x2="1094.55" y2="908.70" stroke="#000" stroke-width="2" />
<line x1="1132.03" y1="903.70" x2="1132.03" y2="908.70" stroke="#000" stroke-width="2" />
<line x1="1169.50" y1="903.70" x2="1169.50" y2="908.70" stroke="#000" stroke-width="2" />
<line x1="1206.98" y1="903.70" x2="1206.98" y2="908.70" stroke="#000" stroke-width="2" />
<line x1="1244.45" y1="903.70" x2="1244.45" y2="908.70" stroke="#000" stroke-width="2" />
<line x1="1281.93" y1="903.70" x2="1281.93" y2="908.70" stroke="#000" stroke-width="2" />
<line x1="1319.40" y1="903.70" x2="1319.40" y2="908.70" stroke="#000" stroke-width="2" />
<line x1="1038.34" y1="903.70" x2="1038.34" y2="906.70" stroke="#000" stroke-width="2" />
<line x1="1075.81" y1="903.70" x2="1075.81" y2="906.70" stroke="#000" stroke-width="2" />
<line x1="1113.29" y1="903.70" x2="1113.29" y2="906.70" stroke="#000" stroke-width="2" />
<line x1="1150.76" y1="903.70" x2="1150.76" y2="906.70" stroke="#000" stroke-width="2" />
<line x1="1188.24" y1="903.70" x2="1188.24" y2="906.70" stroke="#000" stroke-width="2" />
<line x1="1225.71" y1="903.70" x2="1225.71" y2="906.70" stroke="#000" stroke-width="2" />
<line x1="1263.19" y1="903.70" x2="1263.19" y2="906.70" stroke="#000" stroke-width="2" />
<line x1="1300.66" y1="903.70" x2="1300.66" y2="906.70" stroke="#000" stroke-width="2" />
<text x="1012.4" y="885.8" font-size="18.5" fill="#000" font-weight="bold" font-style="normal" text-anchor="end" >0.90</text>
<text x="1012.4" y="837.6" font-size="18.5" fill="#000" font-weight="bold" font-style="normal" text-anchor="end" >0.95</text>
<text x="1012.4" y="789.5" font-size="18.5" fill="#000" font-weight="bold" font-style="normal" text-anchor="end" >1.00</text>
<text x="1012.4" y="741.3" font-size="18.5" fill="#000" font-weight="bold" font-style="normal" text-anchor="end" >1.05</text>
<text x="1012.4" y="693.1" font-size="18.5" fill="#000" font-weight="bold" font-style="normal" text-anchor="end" >1.10</text>
<text x="1019.6" y="926.6" font-size="19" fill="#000" font-weight="bold" font-style="normal" text-anchor="middle" >2</text>
<text x="1057.1" y="926.6" font-size="19" fill="#000" font-weight="bold" font-style="normal" text-anchor="middle" >4</text>
<text x="1094.5" y="926.6" font-size="19" fill="#000" font-weight="bold" font-style="normal" text-anchor="middle" >6</text>
<text x="1132.0" y="926.6" font-size="19" fill="#000" font-weight="bold" font-style="normal" text-anchor="middle" >8</text>
<text x="1169.5" y="926.6" font-size="19" fill="#000" font-weight="bold" font-style="normal" text-anchor="middle" >10</text>
<text x="1207.0" y="926.6" font-size="19" fill="#000" font-weight="bold" font-style="normal" text-anchor="middle" >12</text>
<text x="1244.5" y="926.6" font-size="19" fill="#000" font-weight="bold" font-style="normal" text-anchor="middle" >14</text>
<text x="1281.9" y="926.6" font-size="19" fill="#000" font-weight="bold" font-style="normal" text-anchor="middle" >16</text>
<text x="1319.4" y="926.6" font-size="19" fill="#000" font-weight="bold" font-style="normal" text-anchor="middle" >18</text>
<text x="942.4" y="661.2" font-size="54.5" fill="#000" font-weight="bold" font-style="normal" text-anchor="start" textLength="21.3" lengthAdjust="spacingAndGlyphs" >f</text>
<text x="1095.6" y="946.6" font-size="20.5" fill="#000" font-weight="bold" font-style="normal" text-anchor="start" textLength="152.0" lengthAdjust="spacingAndGlyphs" >Frequency (GHz)</text>
<text transform="translate(970.6,789.5) rotate(-90)" x="0" y="0" font-size="20" font-weight="bold" text-anchor="middle" textLength="132.0" lengthAdjust="spacingAndGlyphs">permeability μ′</text>
<line x1="1187.30" y1="674.20" x2="1213.30" y2="674.20" stroke="#5c1aa0" stroke-width="3" />
<circle cx="1200.3" cy="674.2" r="2.4" fill="#e4d0f4" stroke="#5c1aa0" stroke-width="1.1"/>
<line x1="1187.30" y1="688.70" x2="1213.30" y2="688.70" stroke="#f0a050" stroke-width="3" />
<circle cx="1200.3" cy="688.7" r="2.4" fill="#fbe2c4" stroke="#f0a050" stroke-width="1.1"/>
<text x="1215.3" y="678.0" font-size="11.5" fill="#000" font-weight="bold" font-style="normal" text-anchor="start" textLength="91.0" lengthAdjust="spacingAndGlyphs" >NFO@BFO@PPy</text>
<text x="1215.3" y="692.5" font-size="11.5" fill="#000" font-weight="bold" font-style="normal" text-anchor="start" >NFO/BFO@PPy</text>
<rect x="1418.20" y="648.6" width="37.42" height="254.10" fill="#fcd4f8"/>
<rect x="1455.62" y="648.6" width="74.85" height="254.10" fill="#eef8dc"/>
<rect x="1530.47" y="648.6" width="74.85" height="254.10" fill="#d6f7fc"/>
<rect x="1605.33" y="648.6" width="112.27" height="254.10" fill="#fcfad6"/>
<text x="1436.9" y="658.8" font-size="10.5" fill="#000" font-weight="bold" font-style="normal" text-anchor="middle" >S</text>
<text x="1493.0" y="658.8" font-size="10.5" fill="#000" font-weight="bold" font-style="normal" text-anchor="middle" >C</text>
<text x="1567.9" y="658.8" font-size="10.5" fill="#000" font-weight="bold" font-style="normal" text-anchor="middle" >X</text>
<text x="1661.5" y="658.8" font-size="10.5" fill="#000" font-weight="bold" font-style="normal" text-anchor="middle" >Ku</text>
<clipPath id="cpg"><rect x="1418.2" y="661.8" width="299.39999999999986" height="240.9000000000001"/></clipPath>
<path d="M1418.20,784.95 C1420.70,786.31 1428.12,789.38 1433.17,793.11 C1438.22,796.84 1443.46,803.34 1448.51,807.33 C1453.57,811.32 1458.62,815.84 1463.48,817.03 C1468.35,818.23 1472.78,816.41 1477.71,814.50 C1482.63,812.59 1488.00,807.17 1493.05,805.57 C1498.10,803.97 1503.03,801.45 1508.02,804.91 C1513.01,808.36 1518.00,816.67 1522.99,826.30 C1527.98,835.92 1532.97,851.98 1537.96,862.68 C1542.95,873.37 1547.94,885.83 1552.93,890.46 C1557.92,895.09 1562.91,894.80 1567.90,890.46 C1572.89,886.13 1577.88,873.65 1582.87,864.44 C1587.86,855.24 1592.76,843.37 1597.84,835.23 C1602.92,827.09 1608.29,819.33 1613.37,815.60 C1618.45,811.87 1623.35,813.30 1628.34,812.84 C1633.33,812.39 1638.38,814.94 1643.31,812.84 C1648.24,810.75 1652.92,807.44 1657.91,800.28 C1662.90,793.11 1668.17,781.57 1673.25,769.85 C1678.33,758.12 1683.51,742.06 1688.41,729.94 C1693.30,717.81 1697.76,704.69 1702.63,697.08 C1707.50,689.47 1715.11,686.42 1717.60,684.29" fill="none" stroke="#f0a050" stroke-width="2.6" clip-path="url(#cpg)"/>
<circle cx="1418.2" cy="785.0" r="2.4" fill="#fbe2c4" stroke="#f0a050" stroke-width="1.1"/>
<circle cx="1433.2" cy="793.1" r="2.4" fill="#fbe2c4" stroke="#f0a050" stroke-width="1.1"/>
<circle cx="1448.5" cy="807.3" r="2.4" fill="#fbe2c4" stroke="#f0a050" stroke-width="1.1"/>
<circle cx="1463.5" cy="817.0" r="2.4" fill="#fbe2c4" stroke="#f0a050" stroke-width="1.1"/>
<circle cx="1477.7" cy="814.5" r="2.4" fill="#fbe2c4" stroke="#f0a050" stroke-width="1.1"/>
<circle cx="1493.0" cy="805.6" r="2.4" fill="#fbe2c4" stroke="#f0a050" stroke-width="1.1"/>
<circle cx="1508.0" cy="804.9" r="2.4" fill="#fbe2c4" stroke="#f0a050" stroke-width="1.1"/>
<circle cx="1523.0" cy="826.3" r="2.4" fill="#fbe2c4" stroke="#f0a050" stroke-width="1.1"/>
<circle cx="1538.0" cy="862.7" r="2.4" fill="#fbe2c4" stroke="#f0a050" stroke-width="1.1"/>
<circle cx="1552.9" cy="890.5" r="2.4" fill="#fbe2c4" stroke="#f0a050" stroke-width="1.1"/>
<circle cx="1567.9" cy="890.5" r="2.4" fill="#fbe2c4" stroke="#f0a050" stroke-width="1.1"/>
<circle cx="1582.9" cy="864.4" r="2.4" fill="#fbe2c4" stroke="#f0a050" stroke-width="1.1"/>
<circle cx="1597.8" cy="835.2" r="2.4" fill="#fbe2c4" stroke="#f0a050" stroke-width="1.1"/>
<circle cx="1613.4" cy="815.6" r="2.4" fill="#fbe2c4" stroke="#f0a050" stroke-width="1.1"/>
<circle cx="1628.3" cy="812.8" r="2.4" fill="#fbe2c4" stroke="#f0a050" stroke-width="1.1"/>
<circle cx="1643.3" cy="812.8" r="2.4" fill="#fbe2c4" stroke="#f0a050" stroke-width="1.1"/>
<circle cx="1657.9" cy="800.3" r="2.4" fill="#fbe2c4" stroke="#f0a050" stroke-width="1.1"/>
<circle cx="1673.3" cy="769.8" r="2.4" fill="#fbe2c4" stroke="#f0a050" stroke-width="1.1"/>
<circle cx="1688.4" cy="729.9" r="2.4" fill="#fbe2c4" stroke="#f0a050" stroke-width="1.1"/>
<circle cx="1702.6" cy="697.1" r="2.4" fill="#fbe2c4" stroke="#f0a050" stroke-width="1.1"/>
<circle cx="1717.6" cy="684.3" r="2.4" fill="#fbe2c4" stroke="#f0a050" stroke-width="1.1"/>
<path d="M1418.20,757.72 C1420.70,753.13 1428.12,734.66 1433.17,730.16 C1438.22,725.65 1443.46,725.93 1448.51,730.71 C1453.57,735.48 1458.62,748.00 1463.48,758.82 C1468.35,769.64 1472.78,784.40 1477.71,795.65 C1482.63,806.89 1488.00,818.21 1493.05,826.30 C1498.10,834.38 1503.03,840.00 1508.02,844.16 C1513.01,848.31 1518.00,850.33 1522.99,851.21 C1527.98,852.09 1532.97,851.25 1537.96,849.45 C1542.95,847.65 1547.94,843.07 1552.93,840.41 C1557.92,837.74 1562.91,835.23 1567.90,833.46 C1572.89,831.70 1577.88,829.40 1582.87,829.82 C1587.86,830.25 1592.76,833.98 1597.84,836.00 C1602.92,838.02 1608.29,841.58 1613.37,841.95 C1618.45,842.32 1623.35,841.00 1628.34,838.20 C1633.33,835.41 1638.38,830.03 1643.31,825.19 C1648.24,820.36 1652.92,814.74 1657.91,809.21 C1662.90,803.68 1668.17,798.68 1673.25,792.01 C1678.33,785.34 1683.51,778.81 1688.41,769.19 C1693.30,759.56 1697.76,747.54 1702.63,734.24 C1707.50,720.93 1715.11,696.84 1717.60,689.36" fill="none" stroke="#5c1aa0" stroke-width="2.6" clip-path="url(#cpg)"/>
<circle cx="1418.2" cy="757.7" r="2.4" fill="#e4d0f4" stroke="#5c1aa0" stroke-width="1.1"/>
<circle cx="1433.2" cy="730.2" r="2.4" fill="#e4d0f4" stroke="#5c1aa0" stroke-width="1.1"/>
<circle cx="1448.5" cy="730.7" r="2.4" fill="#e4d0f4" stroke="#5c1aa0" stroke-width="1.1"/>
<circle cx="1463.5" cy="758.8" r="2.4" fill="#e4d0f4" stroke="#5c1aa0" stroke-width="1.1"/>
<circle cx="1477.7" cy="795.6" r="2.4" fill="#e4d0f4" stroke="#5c1aa0" stroke-width="1.1"/>
<circle cx="1493.0" cy="826.3" r="2.4" fill="#e4d0f4" stroke="#5c1aa0" stroke-width="1.1"/>
<circle cx="1508.0" cy="844.2" r="2.4" fill="#e4d0f4" stroke="#5c1aa0" stroke-width="1.1"/>
<circle cx="1523.0" cy="851.2" r="2.4" fill="#e4d0f4" stroke="#5c1aa0" stroke-width="1.1"/>
<circle cx="1538.0" cy="849.4" r="2.4" fill="#e4d0f4" stroke="#5c1aa0" stroke-width="1.1"/>
<circle cx="1552.9" cy="840.4" r="2.4" fill="#e4d0f4" stroke="#5c1aa0" stroke-width="1.1"/>
<circle cx="1567.9" cy="833.5" r="2.4" fill="#e4d0f4" stroke="#5c1aa0" stroke-width="1.1"/>
<circle cx="1582.9" cy="829.8" r="2.4" fill="#e4d0f4" stroke="#5c1aa0" stroke-width="1.1"/>
<circle cx="1597.8" cy="836.0" r="2.4" fill="#e4d0f4" stroke="#5c1aa0" stroke-width="1.1"/>
<circle cx="1613.4" cy="842.0" r="2.4" fill="#e4d0f4" stroke="#5c1aa0" stroke-width="1.1"/>
<circle cx="1628.3" cy="838.2" r="2.4" fill="#e4d0f4" stroke="#5c1aa0" stroke-width="1.1"/>
<circle cx="1643.3" cy="825.2" r="2.4" fill="#e4d0f4" stroke="#5c1aa0" stroke-width="1.1"/>
<circle cx="1657.9" cy="809.2" r="2.4" fill="#e4d0f4" stroke="#5c1aa0" stroke-width="1.1"/>
<circle cx="1673.3" cy="792.0" r="2.4" fill="#e4d0f4" stroke="#5c1aa0" stroke-width="1.1"/>
<circle cx="1688.4" cy="769.2" r="2.4" fill="#e4d0f4" stroke="#5c1aa0" stroke-width="1.1"/>
<circle cx="1702.6" cy="734.2" r="2.4" fill="#e4d0f4" stroke="#5c1aa0" stroke-width="1.1"/>
<circle cx="1717.6" cy="689.4" r="2.4" fill="#e4d0f4" stroke="#5c1aa0" stroke-width="1.1"/>
<rect x="1418.2" y="661.8" width="299.40" height="240.90" fill="none" stroke="#000" stroke-width="2"/>
<line x1="1413.70" y1="882.30" x2="1418.20" y2="882.30" stroke="#000" stroke-width="2" />
<line x1="1413.70" y1="827.18" x2="1418.20" y2="827.18" stroke="#000" stroke-width="2" />
<line x1="1413.70" y1="772.05" x2="1418.20" y2="772.05" stroke="#000" stroke-width="2" />
<line x1="1413.70" y1="716.93" x2="1418.20" y2="716.93" stroke="#000" stroke-width="2" />
<line x1="1413.70" y1="661.80" x2="1418.20" y2="661.80" stroke="#000" stroke-width="2" />
<line x1="1415.70" y1="854.74" x2="1418.20" y2="854.74" stroke="#000" stroke-width="2" />
<line x1="1415.70" y1="799.61" x2="1418.20" y2="799.61" stroke="#000" stroke-width="2" />
<line x1="1415.70" y1="744.49" x2="1418.20" y2="744.49" stroke="#000" stroke-width="2" />
<line x1="1415.70" y1="689.36" x2="1418.20" y2="689.36" stroke="#000" stroke-width="2" />
<line x1="1418.20" y1="902.70" x2="1418.20" y2="907.70" stroke="#000" stroke-width="2" />
<line x1="1455.62" y1="902.70" x2="1455.62" y2="907.70" stroke="#000" stroke-width="2" />
<line x1="1493.05" y1="902.70" x2="1493.05" y2="907.70" stroke="#000" stroke-width="2" />
<line x1="1530.47" y1="902.70" x2="1530.47" y2="907.70" stroke="#000" stroke-width="2" />
<line x1="1567.90" y1="902.70" x2="1567.90" y2="907.70" stroke="#000" stroke-width="2" />
<line x1="1605.33" y1="902.70" x2="1605.33" y2="907.70" stroke="#000" stroke-width="2" />
<line x1="1642.75" y1="902.70" x2="1642.75" y2="907.70" stroke="#000" stroke-width="2" />
<line x1="1680.17" y1="902.70" x2="1680.17" y2="907.70" stroke="#000" stroke-width="2" />
<line x1="1717.60" y1="902.70" x2="1717.60" y2="907.70" stroke="#000" stroke-width="2" />
<line x1="1436.91" y1="902.70" x2="1436.91" y2="905.70" stroke="#000" stroke-width="2" />
<line x1="1474.34" y1="902.70" x2="1474.34" y2="905.70" stroke="#000" stroke-width="2" />
<line x1="1511.76" y1="902.70" x2="1511.76" y2="905.70" stroke="#000" stroke-width="2" />
<line x1="1549.19" y1="902.70" x2="1549.19" y2="905.70" stroke="#000" stroke-width="2" />
<line x1="1586.61" y1="902.70" x2="1586.61" y2="905.70" stroke="#000" stroke-width="2" />
<line x1="1624.04" y1="902.70" x2="1624.04" y2="905.70" stroke="#000" stroke-width="2" />
<line x1="1661.46" y1="902.70" x2="1661.46" y2="905.70" stroke="#000" stroke-width="2" />
<line x1="1698.89" y1="902.70" x2="1698.89" y2="905.70" stroke="#000" stroke-width="2" />
<text x="1411.7" y="888.5" font-size="18.5" fill="#000" font-weight="bold" font-style="normal" text-anchor="end" >0.00</text>
<text x="1411.7" y="833.4" font-size="18.5" fill="#000" font-weight="bold" font-style="normal" text-anchor="end" >0.05</text>
<text x="1411.7" y="778.3" font-size="18.5" fill="#000" font-weight="bold" font-style="normal" text-anchor="end" >0.10</text>
<text x="1411.7" y="723.1" font-size="18.5" fill="#000" font-weight="bold" font-style="normal" text-anchor="end" >0.15</text>
<text x="1411.7" y="668.0" font-size="18.5" fill="#000" font-weight="bold" font-style="normal" text-anchor="end" >0.20</text>
<text x="1418.2" y="926.6" font-size="19" fill="#000" font-weight="bold" font-style="normal" text-anchor="middle" >2</text>
<text x="1455.6" y="926.6" font-size="19" fill="#000" font-weight="bold" font-style="normal" text-anchor="middle" >4</text>
<text x="1493.0" y="926.6" font-size="19" fill="#000" font-weight="bold" font-style="normal" text-anchor="middle" >6</text>
<text x="1530.5" y="926.6" font-size="19" fill="#000" font-weight="bold" font-style="normal" text-anchor="middle" >8</text>
<text x="1567.9" y="926.6" font-size="19" fill="#000" font-weight="bold" font-style="normal" text-anchor="middle" >10</text>
<text x="1605.3" y="926.6" font-size="19" fill="#000" font-weight="bold" font-style="normal" text-anchor="middle" >12</text>
<text x="1642.8" y="926.6" font-size="19" fill="#000" font-weight="bold" font-style="normal" text-anchor="middle" >14</text>
<text x="1680.2" y="926.6" font-size="19" fill="#000" font-weight="bold" font-style="normal" text-anchor="middle" >16</text>
<text x="1717.6" y="926.6" font-size="19" fill="#000" font-weight="bold" font-style="normal" text-anchor="middle" >18</text>
<text x="1328.6" y="658.2" font-size="52" fill="#000" font-weight="bold" font-style="normal" text-anchor="start" >g</text>
<text x="1494.2" y="946.6" font-size="20.5" fill="#000" font-weight="bold" font-style="normal" text-anchor="start" textLength="152.0" lengthAdjust="spacingAndGlyphs" >Frequency (GHz)</text>
<text transform="translate(1369.6,781.5) rotate(-90)" x="0" y="0" font-size="20" font-weight="bold" text-anchor="middle" textLength="153.4" lengthAdjust="spacingAndGlyphs">permeability μ″</text>
<line x1="1567.00" y1="677.10" x2="1593.00" y2="677.10" stroke="#5c1aa0" stroke-width="3" />
<circle cx="1580" cy="677.1" r="2.4" fill="#e4d0f4" stroke="#5c1aa0" stroke-width="1.1"/>
<line x1="1567.00" y1="691.60" x2="1593.00" y2="691.60" stroke="#f0a050" stroke-width="3" />
<circle cx="1580" cy="691.6" r="2.4" fill="#fbe2c4" stroke="#f0a050" stroke-width="1.1"/>
<text x="1595.0" y="680.9" font-size="11.5" fill="#000" font-weight="bold" font-style="normal" text-anchor="start" textLength="91.0" lengthAdjust="spacingAndGlyphs" >NFO@BFO@PPy</text>
<text x="1595.0" y="695.4" font-size="11.5" fill="#000" font-weight="bold" font-style="normal" text-anchor="start" >NFO/BFO@PPy</text>
</svg>
</body></html>
